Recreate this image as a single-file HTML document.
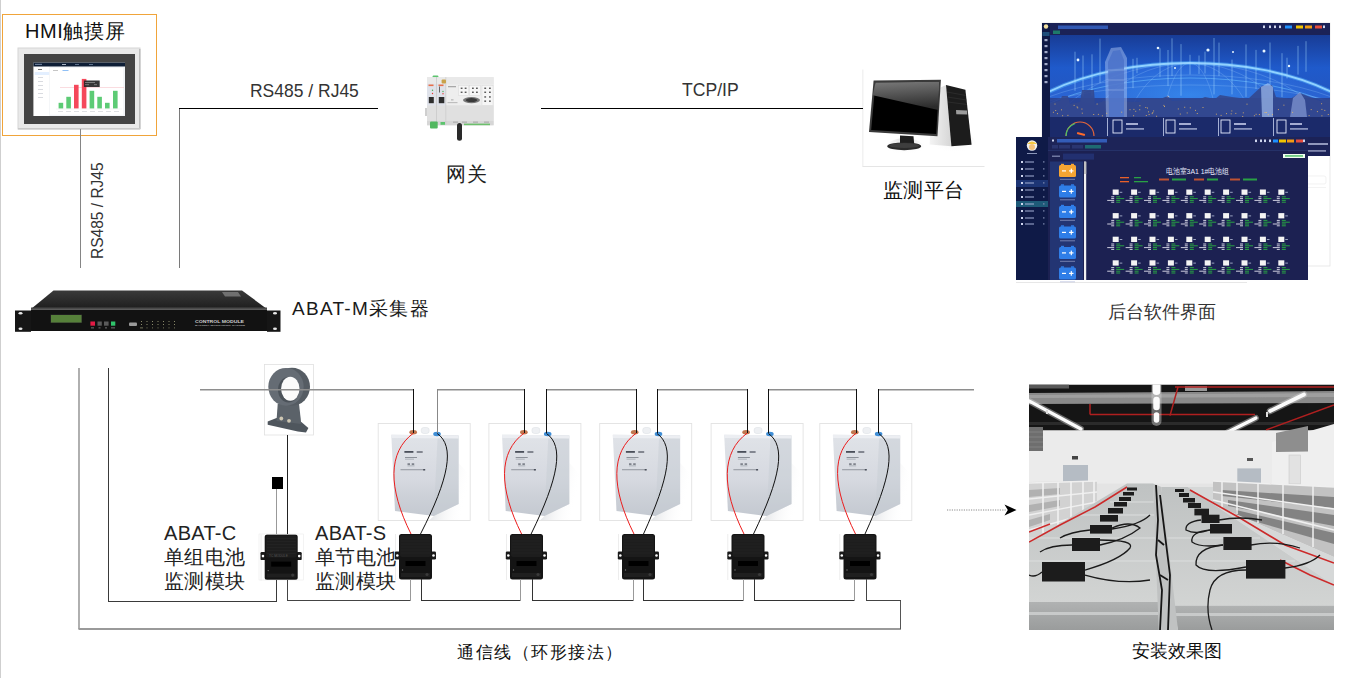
<!DOCTYPE html>
<html><head><meta charset="utf-8">
<style>
html,body{margin:0;padding:0;background:#fff;}
body{width:1351px;height:678px;position:relative;overflow:hidden;font-family:"Liberation Sans",sans-serif;color:#111;}
.t{position:absolute;white-space:nowrap;line-height:1;}
svg{position:absolute;left:0;top:0;}
</style></head><body>
<svg width="1351" height="678" viewBox="0 0 1351 678" shape-rendering="crispEdges">
<!-- left edge -->
<rect x="0" y="0" width="1" height="678" fill="#cfcfcf"/>
<!-- HMI orange box -->
<rect x="2.5" y="14.5" width="154" height="121" fill="none" stroke="#f0a43a" stroke-width="1"/>

<g id="hmi" shape-rendering="auto">
  <rect x="18" y="48" width="122" height="81" fill="#e9e9e9" stroke="#d6d6d6" stroke-width="1"/>
  <rect x="139" y="49" width="1.5" height="80" fill="#bdbdbd"/>
  <rect x="18" y="128" width="122" height="1.5" fill="#c9c9c9"/>
  <rect x="24" y="54" width="111" height="70" fill="#444"/>
  <rect x="33.4" y="62.6" width="91.6" height="53.4" fill="#fff"/>
  <rect x="49.2" y="66.4" width="75.8" height="49.6" fill="#f2f4f7"/>
  <rect x="50" y="68" width="73.2" height="46.7" fill="#fff"/>
  <rect x="33.4" y="62.6" width="91.6" height="3.9" fill="#0e1e36"/>
  <rect x="35" y="63.8" width="7" height="1.2" fill="#8fa3c0" opacity="0.7"/>
  <rect x="62" y="64" width="4" height="1" fill="#cfd8e6" opacity="0.8"/><rect x="75" y="64" width="4" height="1" fill="#8fa3c0" opacity="0.6"/><rect x="89" y="64" width="4" height="1" fill="#8fa3c0" opacity="0.6"/>
  <rect x="34.7" y="72" width="14.5" height="3" fill="#e3efff"/>
  <rect x="53" y="70" width="5" height="0.8" fill="#888" opacity="0.6"/><rect x="62.5" y="70" width="6" height="0.8" fill="#3b8ef0" opacity="0.7"/>
  <rect x="60" y="87.3" width="64" height="0.5" fill="#f5b9c0"/>
  <g fill="#5dcb75">
   <rect x="58.6" y="102.8" width="4.6" height="5.7"/>
   <rect x="66.3" y="96.8" width="4.6" height="11.7"/>
   <rect x="89.6" y="90.8" width="4.6" height="17.7"/>
   <rect x="97.3" y="96.8" width="4.6" height="11.7"/>
   <rect x="105" y="102.8" width="4.6" height="5.7"/>
   <rect x="113" y="90.8" width="4.6" height="17.7"/>
  </g>
  <g fill="#f5485b">
   <rect x="74" y="84.8" width="4.6" height="23.7"/>
   <rect x="81.8" y="78.9" width="4.6" height="29.6"/>
  </g>
  <rect x="83.9" y="80.5" width="15.8" height="6.5" fill="#262626" opacity="0.92"/><rect x="85" y="82" width="10" height="0.6" fill="#aaa"/><rect x="85" y="84.5" width="4" height="0.6" fill="#aaa"/><rect x="94" y="84.5" width="3" height="0.6" fill="#aaa"/>
    <g fill="#c9ccd3"><rect x="38" y="69" width="4" height="1" fill="#777"/><rect x="38" y="77" width="5" height="0.7"/><rect x="38" y="81" width="5" height="0.7"/><rect x="38" y="85" width="5" height="0.7"/><rect x="38" y="89" width="5" height="0.7"/><rect x="38" y="93" width="5" height="0.7"/><rect x="38" y="97" width="5" height="0.7"/></g>
  <g fill="#c9ccd3"><rect x="58" y="111" width="5" height="0.6"/><rect x="66" y="111" width="5" height="0.6"/><rect x="74" y="111" width="5" height="0.6"/><rect x="82" y="111" width="5" height="0.6"/><rect x="90" y="111" width="5" height="0.6"/><rect x="98" y="111" width="5" height="0.6"/><rect x="106" y="111" width="5" height="0.6"/><rect x="114" y="111" width="5" height="0.6"/></g>
  <rect x="56" y="108.8" width="66" height="0.4" fill="#e4e4e4"/>
</g>

<g id="rack" shape-rendering="auto">
  <defs>
   <linearGradient id="rtop" x1="0" y1="0" x2="0" y2="1"><stop offset="0" stop-color="#3a3a3a"/><stop offset="1" stop-color="#1e1e1e"/></linearGradient>
  </defs>
  <polygon points="53.5,290.5 242,290.5 267,309 31,309" fill="url(#rtop)"/>
  <polygon points="222,292 238,292 241,296.5 225,296.5" fill="#8a8a8a" opacity="0.7"/>
  <rect x="31" y="307.5" width="236" height="2" fill="#4a4a4a"/>
  <rect x="31" y="309.5" width="236" height="21.5" fill="#121212"/>
  <path d="M15 310.5H31V331.8H15Z" fill="#161616"/>
  <path d="M267 310.5H280.5V331.8H267Z" fill="#161616"/>
  <g fill="#e8e8e8"><ellipse cx="20.5" cy="313.2" rx="2" ry="1.3"/><ellipse cx="20.5" cy="328.8" rx="2" ry="1.3"/><ellipse cx="275" cy="313.2" rx="2" ry="1.3"/><ellipse cx="275" cy="328.8" rx="2" ry="1.3"/></g>
  <rect x="50.5" y="314.5" width="31.5" height="8.5" fill="#2a2a2a"/><rect x="51" y="315" width="30.5" height="7.5" fill="#56803a"/>
  <rect x="90.4" y="321.5" width="4.6" height="4.2" fill="#e31b45"/>
  <rect x="97.5" y="321.5" width="4.3" height="4.2" fill="#5a5a5a"/>
  <rect x="104" y="321.5" width="4.6" height="4.2" fill="#5a5a5a"/>
  <rect x="111" y="321.5" width="4.3" height="4.2" fill="#2fc46b"/>
  <g fill="#888"><rect x="91" y="327.5" width="3" height="0.8"/><rect x="98.5" y="327.5" width="2" height="0.8"/><rect x="105" y="327.5" width="2" height="0.8"/><rect x="111" y="327.5" width="4" height="0.8"/></g>
  <rect x="129" y="322.5" width="8" height="3.5" rx="1" fill="#9a9a9a"/>
  <g fill="#8a8a6a">
   <rect x="141" y="321" width="1" height="1"/><rect x="146.5" y="321" width="1" height="1"/><rect x="152" y="321" width="1" height="1"/><rect x="157.5" y="321" width="1" height="1"/><rect x="163" y="321" width="1" height="1"/><rect x="168.5" y="321" width="1" height="1"/><rect x="174" y="321" width="1" height="1"/>
   <rect x="141" y="324" width="1" height="1"/><rect x="146.5" y="324" width="1" height="1"/><rect x="152" y="324" width="1" height="1"/><rect x="157.5" y="324" width="1" height="1"/><rect x="163" y="324" width="1" height="1"/><rect x="168.5" y="324" width="1" height="1"/><rect x="174" y="324" width="1" height="1"/>
   <rect x="140" y="327.5" width="3" height="0.8"/><rect x="146.5" y="327.5" width="1" height="0.8"/><rect x="152" y="327.5" width="1" height="0.8"/><rect x="157.5" y="327.5" width="1" height="0.8"/><rect x="163" y="327.5" width="1" height="0.8"/><rect x="168.5" y="327.5" width="1" height="0.8"/><rect x="174" y="327.5" width="1" height="0.8"/>
  </g>
  <text x="195" y="322.6" font-family="Liberation Sans" font-weight="bold" font-size="4" fill="#d0d0d0" textLength="49" lengthAdjust="spacingAndGlyphs">CONTROL MODULE</text>
  <text x="195" y="326" font-family="Liberation Sans" font-weight="bold" font-size="2.2" fill="#a8a8a8" textLength="50" lengthAdjust="spacingAndGlyphs">BATTERY MONITORING SYSTEM</text>
</g>

<g id="gateway" shape-rendering="auto">
  <rect x="432.7" y="75.5" width="5.6" height="3" rx="0.8" fill="#5cc46e"/>
  <rect x="427" y="77.2" width="66.6" height="48" fill="#e2e2e2"/>
  <rect x="427" y="77.2" width="66.6" height="7" fill="#e9e9e9"/>
  <rect x="446" y="84.2" width="47.6" height="21.5" fill="#eeeeee"/>
  <rect x="427" y="105.4" width="66.6" height="15.5" fill="#e0e0e0"/>
  <rect x="427" y="120.9" width="66.6" height="4.4" fill="#d6d6d6"/>
  <rect x="427" y="83.8" width="8.5" height="21.6" fill="#dfe2ea"/>
  <rect x="436.6" y="83.8" width="8.8" height="21.6" fill="#dfe2ea"/>
  <rect x="436" y="77" width="0.6" height="48" fill="#c2c2c2"/>
  <rect x="445.6" y="77" width="0.6" height="48" fill="#c6c6c6"/>
  <rect x="428.5" y="84.5" width="5" height="1.6" fill="#e8704a"/>
  <rect x="438.5" y="84.5" width="5" height="1.6" fill="#e8704a"/>
  <rect x="428.8" y="97" width="5" height="6.2" fill="#2e2e2e"/>
  <rect x="438.8" y="97" width="5.5" height="6.2" fill="#2e2e2e"/>
  <circle cx="432.5" cy="90.3" r="0.7" fill="#4caf50"/><circle cx="432.5" cy="93.5" r="0.7" fill="#e53935"/>
  <circle cx="443" cy="91.5" r="0.7" fill="#4caf50"/><circle cx="443" cy="93.8" r="0.7" fill="#e53935"/>
  <rect x="439" y="86.5" width="0.9" height="6" fill="#555"/>
  <rect x="441.6" y="79.4" width="4.4" height="4" rx="1" fill="#c9a24a"/>
  <g fill="#f6f6f6" stroke="#d4d4d4" stroke-width="0.4">
    <rect x="458.7" y="85.5" width="10" height="9.9"/>
    <rect x="469.8" y="85.5" width="10.5" height="9.9"/>
    <rect x="482" y="85.5" width="11" height="19.9"/>
  </g>
  <g fill="#4a4a4a">
    <rect x="460.7" y="87.6" width="1.8" height="1.3"/><rect x="464.7" y="87.6" width="1.8" height="1.3"/><rect x="460.7" y="91.6" width="1.8" height="1.3"/><rect x="464.7" y="91.6" width="1.8" height="1.3"/>
    <rect x="472" y="87.6" width="1.8" height="1.3"/><rect x="476" y="87.6" width="1.8" height="1.3"/><rect x="472" y="91.6" width="1.8" height="1.3"/><rect x="476" y="91.6" width="1.8" height="1.3"/>
    <rect x="484.3" y="87.6" width="1.8" height="1.3"/><rect x="489" y="87.6" width="1.8" height="1.3"/><rect x="484.3" y="91.6" width="1.8" height="1.3"/><rect x="489" y="91.6" width="1.8" height="1.3"/>
    <rect x="484.3" y="96.3" width="1.8" height="1.3"/><rect x="489" y="96.3" width="1.8" height="1.3"/><rect x="484.3" y="100.5" width="1.8" height="1.3"/><rect x="489" y="100.5" width="1.8" height="1.3"/>
  </g>
  <ellipse cx="471.5" cy="100.1" rx="8.5" ry="3.1" fill="#777"/>
  <ellipse cx="471.5" cy="100.1" rx="5.8" ry="2" fill="#3a3a3a"/>
  <rect x="448" y="86.3" width="8" height="0.9" fill="#8a8a8a"/>
  <rect x="451" y="99.5" width="2.5" height="0.8" fill="#999"/><rect x="447.5" y="102.3" width="10" height="0.8" fill="#aaa"/>
  <rect x="464" y="123.6" width="26" height="1.6" fill="#6cbf6c"/>
  <rect x="453" y="121.5" width="5" height="1.3" fill="#b0b0b0"/><rect x="462" y="121.5" width="5" height="1.3" fill="#b0b0b0"/><rect x="473" y="121.5" width="5" height="1.3" fill="#b0b0b0"/><rect x="484" y="121.5" width="5" height="1.3" fill="#b0b0b0"/>
  <rect x="430" y="121.4" width="7.7" height="7.2" rx="1" fill="#52b860"/>
  <rect x="440.5" y="122" width="4.5" height="2.8" fill="#5cc46e"/>
  <rect x="425" y="108" width="2" height="8" fill="#cfcfcf"/>
  <rect x="457" y="123" width="5" height="17.8" rx="2.5" fill="#2a2a2a"/>
</g>

<g id="pc" shape-rendering="auto">
  <defs>
   <linearGradient id="gloss" x1="0" y1="0" x2="0.15" y2="1"><stop offset="0" stop-color="#7a7a7a"/><stop offset="1" stop-color="#2c2c2c"/></linearGradient>
   <linearGradient id="side" x1="0" y1="0" x2="1" y2="0"><stop offset="0" stop-color="#f4f4f4"/><stop offset="1" stop-color="#d6d6d6"/></linearGradient>
   <radialGradient id="refl" cx="0.5" cy="0" r="0.7"><stop offset="0" stop-color="#d8d8d8"/><stop offset="1" stop-color="#ffffff" stop-opacity="0"/></radialGradient>
  </defs>
  <rect x="862.5" y="69.5" width="0.8" height="97" fill="#e6e6e6"/>
  <rect x="862.5" y="166" width="122" height="0.9" fill="#e2e2e2"/>
  <ellipse cx="905" cy="150" rx="20" ry="12" fill="url(#refl)"/>
  <ellipse cx="955" cy="147" rx="22" ry="16" fill="url(#refl)"/>
  <polygon points="940.6,87.5 946,85.1 951.4,146.3 929.7,144.5 931,100" fill="url(#side)"/>
  <polygon points="946,85.1 965.4,89.8 971.6,144.8 951.4,146.3" fill="#1c1c1c"/>
  <g stroke="#3a3a3a" stroke-width="0.5"><line x1="947" y1="92" x2="966" y2="95.5"/><line x1="947.5" y1="97" x2="966.5" y2="100"/><line x1="948" y1="102" x2="967" y2="104.5"/></g>
  <polygon points="956,110 967,110.5 967.3,114.6 956.3,114.3" fill="#9c9c9c"/>
  <polygon points="873.6,80.5 940.9,79.7 937.5,136.3 869,132" fill="#3a3a3a"/>
  <polygon points="875.5,82.4 939.3,81.7 936.2,134 871.2,130" fill="#000"/>
  <polygon points="875.5,82.4 939.3,81.7 938.2,110 872.8,95.2" fill="url(#gloss)"/>
  <polygon points="900,135.5 913.5,136.3 914.2,144 900,144" fill="#1e1e1e"/>
  <ellipse cx="904.2" cy="146.3" rx="17" ry="3.9" fill="#2a2a2a"/>
  <ellipse cx="904.2" cy="145.5" rx="15" ry="2.6" fill="#3e3e3e"/>
</g>
<g id="soft" shape-rendering="auto">
<defs>
<linearGradient id="hero" x1="0" y1="0" x2="0" y2="1"><stop offset="0" stop-color="#183c96"/><stop offset="0.4" stop-color="#1f5acb"/><stop offset="0.75" stop-color="#2456c0"/><stop offset="1" stop-color="#22348a"/></linearGradient>
<radialGradient id="glow" cx="0.5" cy="0.5" r="0.5"><stop offset="0" stop-color="#3fa0ff" stop-opacity="0.55"/><stop offset="1" stop-color="#3fa0ff" stop-opacity="0"/></radialGradient>
<clipPath id="heroclip"><rect x="1050" y="35" width="280" height="82"/></clipPath>
</defs>
<rect x="1042" y="23" width="288" height="243" fill="#fff" stroke="#e3e3e3" stroke-width="0.8"/>
<rect x="1042" y="23" width="288" height="133" fill="#1b2257"/>
<rect x="1042" y="23" width="8" height="133" fill="#101a45"/>
<rect x="1042.5" y="32" width="7" height="4" fill="#1f4f7a"/>
<circle cx="1046" cy="26.5" r="2.2" fill="#f2e0a0"/>
<rect x="1058" y="25.5" width="50" height="3.5" fill="#3b6fd8" opacity="0.7"/>
<rect x="1053" y="30.5" width="7" height="3.5" fill="#1e7a6a"/>
<rect x="1285" y="25.5" width="7" height="3" fill="#1e90ff"/>
<rect x="1296" y="25.5" width="7" height="3" fill="#f2c500"/>
<rect x="1305" y="25.5" width="7" height="3" fill="#f39c12"/>
<rect x="1315" y="25.5" width="7" height="3" fill="#e74c3c"/>
<g fill="#cfd6ee"><rect x="1263" y="25.5" width="2" height="2.6"/><rect x="1269" y="25.5" width="2" height="2.6"/><rect x="1274" y="25.5" width="2" height="2.6"/><rect x="1279" y="25.5" width="2" height="2.6"/><rect x="1323" y="25.5" width="2" height="2.6"/></g>
<rect x="1044.5" y="39" width="3" height="2.2" fill="#c8d0ea" opacity="0.8"/>
<rect x="1044.5" y="45" width="3" height="2.2" fill="#c8d0ea" opacity="0.8"/>
<rect x="1044.5" y="51" width="3" height="2.2" fill="#c8d0ea" opacity="0.8"/>
<rect x="1044.5" y="57" width="3" height="2.2" fill="#c8d0ea" opacity="0.8"/>
<rect x="1044.5" y="63" width="3" height="2.2" fill="#c8d0ea" opacity="0.8"/>
<rect x="1044.5" y="69" width="3" height="2.2" fill="#c8d0ea" opacity="0.8"/>
<rect x="1044.5" y="75" width="3" height="2.2" fill="#c8d0ea" opacity="0.8"/>
<rect x="1044.5" y="81" width="3" height="2.2" fill="#c8d0ea" opacity="0.8"/>
<g clip-path="url(#heroclip)">
<rect x="1050" y="35" width="280" height="82" fill="url(#hero)"/>
<ellipse cx="1190" cy="162" rx="200" ry="99" fill="#2f6fe0" opacity="0.55"/>
<ellipse cx="1190" cy="95" rx="120" ry="30" fill="url(#glow)"/>
<ellipse cx="1190" cy="162" rx="200" ry="99" fill="none" stroke="#bfe8ff" stroke-width="1.8"/>
<ellipse cx="1190" cy="162" rx="200" ry="99" fill="none" stroke="#58b8ff" stroke-width="4" opacity="0.45"/>
<ellipse cx="1190" cy="172" rx="206" ry="94" fill="none" stroke="#6cc0ff" stroke-width="0.8" opacity="0.7"/>
<g stroke="#9fcfff" stroke-width="0.5" opacity="0.5" fill="none">
<ellipse cx="1190" cy="162" rx="30" ry="99"/>
<ellipse cx="1190" cy="162" rx="70" ry="99"/>
<ellipse cx="1190" cy="162" rx="110" ry="99"/>
<ellipse cx="1190" cy="162" rx="150" ry="99"/>
<ellipse cx="1190" cy="150" rx="200" ry="75"/><ellipse cx="1190" cy="140" rx="200" ry="55"/></g>
<g stroke="#a8dcff" stroke-width="0.6" opacity="0.8">
<line x1="1075" y1="51.7" x2="1075" y2="90.8"/>
<line x1="1083" y1="55.5" x2="1083" y2="96.4"/>
<line x1="1092" y1="54.3" x2="1092" y2="95.8"/>
<line x1="1100" y1="38.6" x2="1100" y2="83.0"/>
<line x1="1133" y1="58.8" x2="1133" y2="88.2"/>
<line x1="1137" y1="57.8" x2="1137" y2="73.2"/>
<line x1="1160" y1="48.3" x2="1160" y2="76.9"/>
<line x1="1168" y1="50.0" x2="1168" y2="86.1"/>
<line x1="1172" y1="38.3" x2="1172" y2="76.1"/>
<line x1="1181" y1="44.1" x2="1181" y2="95.7"/>
<line x1="1190" y1="54.8" x2="1190" y2="74.5"/>
<line x1="1199" y1="55.5" x2="1199" y2="73.9"/>
<line x1="1205" y1="51.6" x2="1205" y2="73.5"/>
<line x1="1214" y1="38.0" x2="1214" y2="94.4"/>
<line x1="1219" y1="42.6" x2="1219" y2="76.0"/>
<line x1="1232" y1="59.6" x2="1232" y2="94.4"/>
<line x1="1246" y1="44.4" x2="1246" y2="96.9"/>
<line x1="1256" y1="49.9" x2="1256" y2="89.0"/>
<line x1="1270" y1="42.5" x2="1270" y2="96.3"/>
<line x1="1282" y1="53.2" x2="1282" y2="97.1"/>
<line x1="1287" y1="57.7" x2="1287" y2="78.4"/>
<line x1="1298" y1="45.9" x2="1298" y2="74.6"/>
<line x1="1306" y1="41.2" x2="1306" y2="71.8"/>
</g>
<g fill="#e8f6ff">
<circle cx="1078" cy="60" r="1.4"/>
<circle cx="1158" cy="48" r="1.3"/>
<circle cx="1175" cy="68" r="1"/>
<circle cx="1208" cy="50" r="1.6"/>
<circle cx="1264" cy="51" r="1.5"/>
<circle cx="1289" cy="66" r="1.2"/>
<circle cx="1168" cy="97" r="1.3"/>
<circle cx="1233" cy="52" r="1"/>
</g>
<rect x="1050" y="98" width="280" height="19" fill="#2a3f8e" opacity="0.85"/>
<polygon points="1050,117 1050,103 1060,101 1062,96 1068,96 1070,104 1080,102 1082,90 1094,90 1095,104 1104,101 1140,102 1142,98 1160,99 1168,96 1172,101 1200,99 1205,97 1215,99 1220,95 1232,97 1248,99 1262,86 1272,85 1276,97 1290,99 1300,93 1310,97 1320,101 1330,99 1330,117" fill="#33488f" opacity="0.9"/>
<polygon points="1106,117 1105,62 1111,48 1121,47 1127,58 1127,117" fill="#a8c0f0" opacity="0.5"/>
<polygon points="1109,117 1108,62 1113,51 1120,50 1124,60 1124,117" fill="#4a70c8" opacity="0.8"/>
<g stroke="#d0e4ff" stroke-width="0.5" opacity="0.6"><line x1="1108" y1="70" x2="1124" y2="70"/><line x1="1108" y1="80" x2="1124" y2="80"/><line x1="1108" y1="90" x2="1124" y2="90"/></g>
<polygon points="1262,117 1261,87 1268,83 1273,87 1273,117" fill="#a8c4f4" opacity="0.65"/>
<polygon points="1290,117 1293,98 1300,92 1305,100 1307,117" fill="#9ab0e8" opacity="0.55"/>
<g fill="#f5c060" opacity="0.85">
<rect x="1135.2" y="110.8" width="1" height="0.9"/>
<rect x="1052.9" y="111.8" width="1" height="0.9"/>
<rect x="1145.3" y="107.0" width="1" height="0.9"/>
<rect x="1277.9" y="109.2" width="1" height="0.9"/>
<rect x="1139.2" y="109.3" width="1" height="0.9"/>
<rect x="1246.5" y="103.7" width="1" height="0.9"/>
<rect x="1321.1" y="103.3" width="1" height="0.9"/>
<rect x="1258.9" y="114.0" width="1" height="0.9"/>
<rect x="1057.0" y="113.2" width="1" height="0.9"/>
<rect x="1153.1" y="110.5" width="1" height="0.9"/>
<rect x="1054.5" y="103.6" width="1" height="0.9"/>
<rect x="1101.9" y="115.4" width="1" height="0.9"/>
<rect x="1106.2" y="112.8" width="1" height="0.9"/>
<rect x="1308.6" y="115.2" width="1" height="0.9"/>
<rect x="1147.0" y="107.6" width="1" height="0.9"/>
<rect x="1196.8" y="113.1" width="1" height="0.9"/>
<rect x="1081.8" y="112.7" width="1" height="0.9"/>
<rect x="1272.0" y="114.2" width="1" height="0.9"/>
<rect x="1062.1" y="115.3" width="1" height="0.9"/>
<rect x="1077.2" y="107.4" width="1" height="0.9"/>
<rect x="1220.6" y="114.9" width="1" height="0.9"/>
<rect x="1145.8" y="115.0" width="1" height="0.9"/>
<rect x="1202.5" y="107.1" width="1" height="0.9"/>
<rect x="1139.4" y="105.3" width="1" height="0.9"/>
<rect x="1073.6" y="104.9" width="1" height="0.9"/>
<rect x="1242.2" y="116.0" width="1" height="0.9"/>
<rect x="1096.6" y="103.6" width="1" height="0.9"/>
<rect x="1324.3" y="109.9" width="1" height="0.9"/>
<rect x="1164.0" y="106.1" width="1" height="0.9"/>
<rect x="1215.9" y="113.7" width="1" height="0.9"/>
<rect x="1177.8" y="108.5" width="1" height="0.9"/>
<rect x="1067.4" y="114.9" width="1" height="0.9"/>
<rect x="1061.0" y="109.4" width="1" height="0.9"/>
<rect x="1283.4" y="104.7" width="1" height="0.9"/>
<rect x="1253.9" y="115.3" width="1" height="0.9"/>
<rect x="1226.0" y="113.2" width="1" height="0.9"/>
<rect x="1081.4" y="108.6" width="1" height="0.9"/>
<rect x="1093.2" y="114.0" width="1" height="0.9"/>
<rect x="1133.4" y="108.9" width="1" height="0.9"/>
<rect x="1327.8" y="114.1" width="1" height="0.9"/>
<rect x="1321.4" y="108.9" width="1" height="0.9"/>
<rect x="1186.7" y="112.5" width="1" height="0.9"/>
<rect x="1184.2" y="106.8" width="1" height="0.9"/>
<rect x="1163.4" y="104.9" width="1" height="0.9"/>
<rect x="1156.1" y="115.8" width="1" height="0.9"/>
<rect x="1316.9" y="111.2" width="1" height="0.9"/>
<rect x="1189.8" y="107.4" width="1" height="0.9"/>
<rect x="1076.6" y="106.5" width="1" height="0.9"/>
<rect x="1267.8" y="114.3" width="1" height="0.9"/>
<rect x="1151.7" y="113.2" width="1" height="0.9"/>
<rect x="1265.9" y="112.0" width="1" height="0.9"/>
<rect x="1235.3" y="112.9" width="1" height="0.9"/>
<rect x="1152.3" y="112.2" width="1" height="0.9"/>
<rect x="1129.5" y="109.3" width="1" height="0.9"/>
<rect x="1264.5" y="112.0" width="1" height="0.9"/>
<rect x="1133.1" y="115.3" width="1" height="0.9"/>
<rect x="1231.3" y="110.5" width="1" height="0.9"/>
<rect x="1055.2" y="110.1" width="1" height="0.9"/>
<rect x="1121.2" y="111.7" width="1" height="0.9"/>
<rect x="1179.8" y="113.6" width="1" height="0.9"/>
<rect x="1230.7" y="113.4" width="1" height="0.9"/>
<rect x="1148.0" y="111.4" width="1" height="0.9"/>
<rect x="1255.6" y="113.8" width="1" height="0.9"/>
<rect x="1148.6" y="114.0" width="1" height="0.9"/>
<rect x="1292.1" y="111.9" width="1" height="0.9"/>
<rect x="1321.4" y="115.4" width="1" height="0.9"/>
<rect x="1195.0" y="109.9" width="1" height="0.9"/>
<rect x="1097.9" y="113.9" width="1" height="0.9"/>
<rect x="1310.7" y="109.2" width="1" height="0.9"/>
<rect x="1242.8" y="112.4" width="1" height="0.9"/>
</g>
</g>
<rect x="1050" y="117" width="280" height="20" fill="#1b2a6a"/>
<g fill="#c8d2f0"><rect x="1107" y="118" width="0.8" height="18"/><rect x="1163" y="118" width="0.8" height="18"/><rect x="1218" y="118" width="0.8" height="18"/><rect x="1273" y="118" width="0.8" height="18"/></g>
<path d="M1066 136 A14 14 0 0 1 1094 136" fill="none" stroke="#e8673a" stroke-width="1.2"/>
<path d="M1066 136 A14 14 0 0 1 1075 123.5" fill="none" stroke="#46c46a" stroke-width="1.2"/>
<rect x="1077" y="133" width="8" height="2" fill="#ff6a2a" transform="rotate(15 1081 134)"/>
<rect x="1113" y="120" width="9" height="13" fill="none" stroke="#e8eeff" stroke-width="0.9"/>
<rect x="1126" y="123" width="12" height="2" fill="#dfe6ff" opacity="0.7"/>
<rect x="1126" y="128" width="18" height="1.8" fill="#dfe6ff" opacity="0.55"/>
<rect x="1166" y="120" width="9" height="13" fill="none" stroke="#e8eeff" stroke-width="0.9"/>
<rect x="1179" y="123" width="12" height="2" fill="#dfe6ff" opacity="0.7"/>
<rect x="1179" y="128" width="18" height="1.8" fill="#dfe6ff" opacity="0.55"/>
<rect x="1221" y="120" width="9" height="13" fill="none" stroke="#e8eeff" stroke-width="0.9"/>
<rect x="1234" y="123" width="12" height="2" fill="#dfe6ff" opacity="0.7"/>
<rect x="1234" y="128" width="18" height="1.8" fill="#dfe6ff" opacity="0.55"/>
<rect x="1277" y="120" width="9" height="13" fill="none" stroke="#e8eeff" stroke-width="0.9"/>
<rect x="1290" y="123" width="12" height="2" fill="#dfe6ff" opacity="0.7"/>
<rect x="1290" y="128" width="18" height="1.8" fill="#dfe6ff" opacity="0.55"/>
<rect x="1308" y="143" width="20" height="2" fill="#dfe6ff" opacity="0.6"/>
<rect x="1308" y="150" width="18" height="1.8" fill="#dfe6ff" opacity="0.5"/>
<rect x="1296" y="176" width="30" height="8" rx="2" fill="none" stroke="#ececec" stroke-width="0.7"/>
<rect x="1290" y="187" width="36" height="0.6" fill="#ececec"/>
<rect x="1016" y="137" width="292" height="143" fill="#1c2152"/>
<rect x="1016" y="282" width="231" height="0.8" fill="#e2e2e2"/>
<rect x="1016" y="137" width="32" height="143" fill="#0f1a47"/>
<circle cx="1032" cy="145.5" r="5.2" fill="#f0f0f0"/><circle cx="1032" cy="147" r="3" fill="#f4c27a"/><path d="M1027 144 Q1032 139 1037 144Z" fill="#f5c842"/>
<rect x="1027" y="153" width="10" height="1" fill="#8a95b8"/>
<rect x="1021" y="161" width="2" height="2" fill="#cfd6ee"/><rect x="1025" y="161.3" width="9" height="1.4" fill="#aab4d8" opacity="0.7"/><rect x="1043" y="161.3" width="1.5" height="1.2" fill="#7f8ab0"/>
<rect x="1021" y="168" width="2" height="2" fill="#cfd6ee"/><rect x="1025" y="168.3" width="9" height="1.4" fill="#aab4d8" opacity="0.7"/><rect x="1043" y="168.3" width="1.5" height="1.2" fill="#7f8ab0"/>
<rect x="1021" y="175" width="2" height="2" fill="#cfd6ee"/><rect x="1025" y="175.3" width="9" height="1.4" fill="#aab4d8" opacity="0.7"/><rect x="1043" y="175.3" width="1.5" height="1.2" fill="#7f8ab0"/>
<rect x="1016" y="180" width="32" height="7" fill="#1d3575"/>
<rect x="1021" y="182" width="2" height="2" fill="#cfd6ee"/><rect x="1025" y="182.3" width="9" height="1.4" fill="#aab4d8" opacity="0.7"/><rect x="1043" y="182.3" width="1.5" height="1.2" fill="#7f8ab0"/>
<rect x="1021" y="189" width="2" height="2" fill="#cfd6ee"/><rect x="1025" y="189.3" width="9" height="1.4" fill="#aab4d8" opacity="0.7"/><rect x="1043" y="189.3" width="1.5" height="1.2" fill="#7f8ab0"/>
<rect x="1021" y="196" width="2" height="2" fill="#cfd6ee"/><rect x="1025" y="196.3" width="9" height="1.4" fill="#aab4d8" opacity="0.7"/><rect x="1043" y="196.3" width="1.5" height="1.2" fill="#7f8ab0"/>
<rect x="1016" y="201" width="32" height="6" fill="#1e5a78"/>
<rect x="1021" y="203" width="2" height="2" fill="#cfd6ee"/><rect x="1025" y="203.3" width="9" height="1.4" fill="#aab4d8" opacity="0.7"/><rect x="1043" y="203.3" width="1.5" height="1.2" fill="#7f8ab0"/>
<rect x="1021" y="210" width="2" height="2" fill="#cfd6ee"/><rect x="1025" y="210.3" width="9" height="1.4" fill="#aab4d8" opacity="0.7"/><rect x="1043" y="210.3" width="1.5" height="1.2" fill="#7f8ab0"/>
<rect x="1021" y="217" width="2" height="2" fill="#cfd6ee"/><rect x="1025" y="217.3" width="9" height="1.4" fill="#aab4d8" opacity="0.7"/><rect x="1043" y="217.3" width="1.5" height="1.2" fill="#7f8ab0"/>
<rect x="1021" y="223" width="2" height="2" fill="#cfd6ee"/><rect x="1025" y="223.3" width="9" height="1.4" fill="#aab4d8" opacity="0.7"/><rect x="1043" y="223.3" width="1.5" height="1.2" fill="#7f8ab0"/>
<rect x="1048" y="137" width="260" height="13" fill="#1d2458"/>
<rect x="1052" y="139.5" width="2" height="2" fill="#cfd6ee"/><rect x="1057" y="139" width="50" height="3.5" fill="#3b6fd8" opacity="0.75"/>
<rect x="1052" y="145" width="6" height="3.5" fill="#2a3570"/><rect x="1059" y="145" width="11" height="3.5" fill="#2a3570"/><rect x="1072" y="145" width="11" height="3.5" fill="#2a3570"/><rect x="1085" y="145" width="16" height="3.5" fill="#1e6a72"/>
<rect x="1048" y="150.3" width="260" height="0.6" fill="#2d3d78"/>
<rect x="1279" y="139.5" width="7" height="3" fill="#f2c500"/>
<rect x="1287" y="139.5" width="7" height="3" fill="#f39c12"/>
<rect x="1296" y="139.5" width="7" height="3" fill="#e74c3c"/>
<rect x="1273" y="139.5" width="5" height="3" fill="#1e90ff"/>
<g fill="#cfd6ee"><rect x="1255" y="139.5" width="2" height="2.6"/><rect x="1260" y="139.5" width="2" height="2.6"/><rect x="1264" y="139.5" width="2" height="2.6"/><rect x="1269" y="139.5" width="2" height="2.6"/><rect x="1303" y="139.5" width="2" height="2.6"/></g>
<rect x="1063" y="153.6" width="31" height="6" fill="#223070"/><rect x="1052" y="155.5" width="8" height="1.5" fill="#aab4d8" opacity="0.6"/>
<rect x="1283" y="154" width="22" height="4" fill="#f0fff0"/><rect x="1285" y="155.3" width="18" height="1.3" fill="#3cb85a"/>
<rect x="1050" y="161.5" width="33" height="118.5" fill="#233573"/>
<rect x="1084" y="161.5" width="2.2" height="118.5" fill="#f0f0f0"/><rect x="1084" y="162" width="2.2" height="12" fill="#c0c0c0"/>
<rect x="1059" y="165" width="17" height="12" rx="1.5" fill="#f5a533"/>
<rect x="1061" y="163.8" width="3" height="1.5" fill="#f5a533"/><rect x="1071" y="163.8" width="3" height="1.5" fill="#f5a533"/>
<rect x="1062" y="170.3" width="4" height="1.2" fill="#fff"/><rect x="1069" y="170.3" width="4.5" height="1.2" fill="#fff"/><rect x="1070.7" y="168.6" width="1.2" height="4.6" fill="#fff"/>
<rect x="1060" y="178.8" width="15" height="1" fill="#aab4d8" opacity="0.6"/>
<rect x="1059" y="185.5" width="17" height="12" rx="1.5" fill="#2f7ee8"/>
<rect x="1061" y="184.3" width="3" height="1.5" fill="#2f7ee8"/><rect x="1071" y="184.3" width="3" height="1.5" fill="#2f7ee8"/>
<rect x="1062" y="190.8" width="4" height="1.2" fill="#fff"/><rect x="1069" y="190.8" width="4.5" height="1.2" fill="#fff"/><rect x="1070.7" y="189.1" width="1.2" height="4.6" fill="#fff"/>
<rect x="1060" y="199.3" width="15" height="1" fill="#aab4d8" opacity="0.6"/>
<rect x="1059" y="206" width="17" height="12" rx="1.5" fill="#2f7ee8"/>
<rect x="1061" y="204.8" width="3" height="1.5" fill="#2f7ee8"/><rect x="1071" y="204.8" width="3" height="1.5" fill="#2f7ee8"/>
<rect x="1062" y="211.3" width="4" height="1.2" fill="#fff"/><rect x="1069" y="211.3" width="4.5" height="1.2" fill="#fff"/><rect x="1070.7" y="209.6" width="1.2" height="4.6" fill="#fff"/>
<rect x="1060" y="219.8" width="15" height="1" fill="#aab4d8" opacity="0.6"/>
<rect x="1059" y="226.5" width="17" height="12" rx="1.5" fill="#2f7ee8"/>
<rect x="1061" y="225.3" width="3" height="1.5" fill="#2f7ee8"/><rect x="1071" y="225.3" width="3" height="1.5" fill="#2f7ee8"/>
<rect x="1062" y="231.8" width="4" height="1.2" fill="#fff"/><rect x="1069" y="231.8" width="4.5" height="1.2" fill="#fff"/><rect x="1070.7" y="230.1" width="1.2" height="4.6" fill="#fff"/>
<rect x="1060" y="240.3" width="15" height="1" fill="#aab4d8" opacity="0.6"/>
<rect x="1059" y="247" width="17" height="12" rx="1.5" fill="#2f7ee8"/>
<rect x="1061" y="245.8" width="3" height="1.5" fill="#2f7ee8"/><rect x="1071" y="245.8" width="3" height="1.5" fill="#2f7ee8"/>
<rect x="1062" y="252.3" width="4" height="1.2" fill="#fff"/><rect x="1069" y="252.3" width="4.5" height="1.2" fill="#fff"/><rect x="1070.7" y="250.6" width="1.2" height="4.6" fill="#fff"/>
<rect x="1060" y="260.8" width="15" height="1" fill="#aab4d8" opacity="0.6"/>
<rect x="1059" y="267.5" width="17" height="12" rx="1.5" fill="#2f7ee8"/>
<rect x="1061" y="266.3" width="3" height="1.5" fill="#2f7ee8"/><rect x="1071" y="266.3" width="3" height="1.5" fill="#2f7ee8"/>
<rect x="1062" y="272.8" width="4" height="1.2" fill="#fff"/><rect x="1069" y="272.8" width="4.5" height="1.2" fill="#fff"/><rect x="1070.7" y="271.1" width="1.2" height="4.6" fill="#fff"/>
<rect x="1060" y="281.3" width="15" height="1" fill="#aab4d8" opacity="0.6"/>
<text x="1166" y="174" font-family="Liberation Sans" font-size="8" fill="#e8ecff" textLength="63" lengthAdjust="spacingAndGlyphs">电池室3A1  1#电池组</text>
<rect x="1120" y="177" width="9" height="1.3" fill="#e8602a"/><rect x="1134" y="177" width="7" height="1.3" fill="#2ecc40" opacity="0.75"/>
<rect x="1120" y="181" width="9" height="1.3" fill="#e8602a"/><rect x="1134" y="181" width="14" height="1.3" fill="#2ecc40" opacity="0.75"/>
<rect x="1159" y="178.5" width="10" height="2" fill="#e8602a" opacity="0.8"/><rect x="1172" y="178.5" width="14" height="2" fill="#2ecc40" opacity="0.75"/>
<rect x="1194" y="178.5" width="10" height="2" fill="#e8602a" opacity="0.8"/><rect x="1207" y="178.5" width="11" height="2" fill="#2ecc40" opacity="0.75"/>
<rect x="1230" y="178.5" width="10" height="2" fill="#e8602a" opacity="0.8"/><rect x="1243" y="178.5" width="14" height="2" fill="#2ecc40" opacity="0.75"/>
<rect x="1112.7" y="189.5" width="6" height="5.3" fill="#f4f4f4"/>
<rect x="1119.7" y="191.8" width="2.6" height="1" fill="#9aa2c0"/>
<rect x="1111.2" y="196.3" width="3" height="1" fill="#ccd"/><rect x="1116.2" y="196.3" width="4" height="1" fill="#2ecc40" opacity="0.75"/>
<rect x="1111.2" y="198.1" width="3" height="1" fill="#ccd"/><rect x="1116.2" y="198.1" width="8" height="1" fill="#2ecc40" opacity="0.75"/>
<rect x="1107.2" y="199.9" width="7" height="1" fill="#ccd"/><rect x="1116.2" y="199.9" width="4" height="1" fill="#2ecc40" opacity="0.75"/>
<rect x="1111.2" y="201.7" width="3" height="1" fill="#ccd"/><rect x="1116.2" y="201.7" width="4" height="1" fill="#2ecc40" opacity="0.75"/>
<rect x="1131.1" y="189.5" width="6" height="5.3" fill="#f4f4f4"/>
<rect x="1138.1" y="191.8" width="2.6" height="1" fill="#9aa2c0"/>
<rect x="1129.6" y="196.3" width="3" height="1" fill="#ccd"/><rect x="1134.6" y="196.3" width="4" height="1" fill="#2ecc40" opacity="0.75"/>
<rect x="1129.6" y="198.1" width="3" height="1" fill="#ccd"/><rect x="1134.6" y="198.1" width="8" height="1" fill="#2ecc40" opacity="0.75"/>
<rect x="1125.6" y="199.9" width="7" height="1" fill="#ccd"/><rect x="1134.6" y="199.9" width="4" height="1" fill="#2ecc40" opacity="0.75"/>
<rect x="1129.6" y="201.7" width="3" height="1" fill="#ccd"/><rect x="1134.6" y="201.7" width="4" height="1" fill="#2ecc40" opacity="0.75"/>
<rect x="1149.5" y="189.5" width="6" height="5.3" fill="#f4f4f4"/>
<rect x="1156.5" y="191.8" width="2.6" height="1" fill="#9aa2c0"/>
<rect x="1148.0" y="196.3" width="3" height="1" fill="#ccd"/><rect x="1153.0" y="196.3" width="4" height="1" fill="#2ecc40" opacity="0.75"/>
<rect x="1148.0" y="198.1" width="3" height="1" fill="#ccd"/><rect x="1153.0" y="198.1" width="8" height="1" fill="#2ecc40" opacity="0.75"/>
<rect x="1144.0" y="199.9" width="7" height="1" fill="#ccd"/><rect x="1153.0" y="199.9" width="4" height="1" fill="#2ecc40" opacity="0.75"/>
<rect x="1148.0" y="201.7" width="3" height="1" fill="#ccd"/><rect x="1153.0" y="201.7" width="4" height="1" fill="#2ecc40" opacity="0.75"/>
<rect x="1167.9" y="189.5" width="6" height="5.3" fill="#f4f4f4"/>
<rect x="1174.9" y="191.8" width="2.6" height="1" fill="#9aa2c0"/>
<rect x="1166.4" y="196.3" width="3" height="1" fill="#ccd"/><rect x="1171.4" y="196.3" width="4" height="1" fill="#2ecc40" opacity="0.75"/>
<rect x="1166.4" y="198.1" width="3" height="1" fill="#ccd"/><rect x="1171.4" y="198.1" width="8" height="1" fill="#2ecc40" opacity="0.75"/>
<rect x="1162.4" y="199.9" width="7" height="1" fill="#ccd"/><rect x="1171.4" y="199.9" width="4" height="1" fill="#2ecc40" opacity="0.75"/>
<rect x="1166.4" y="201.7" width="3" height="1" fill="#ccd"/><rect x="1171.4" y="201.7" width="4" height="1" fill="#2ecc40" opacity="0.75"/>
<rect x="1186.3" y="189.5" width="6" height="5.3" fill="#f4f4f4"/>
<rect x="1193.3" y="191.8" width="2.6" height="1" fill="#9aa2c0"/>
<rect x="1184.8" y="196.3" width="3" height="1" fill="#ccd"/><rect x="1189.8" y="196.3" width="4" height="1" fill="#2ecc40" opacity="0.75"/>
<rect x="1184.8" y="198.1" width="3" height="1" fill="#ccd"/><rect x="1189.8" y="198.1" width="8" height="1" fill="#2ecc40" opacity="0.75"/>
<rect x="1180.8" y="199.9" width="7" height="1" fill="#ccd"/><rect x="1189.8" y="199.9" width="4" height="1" fill="#2ecc40" opacity="0.75"/>
<rect x="1184.8" y="201.7" width="3" height="1" fill="#ccd"/><rect x="1189.8" y="201.7" width="4" height="1" fill="#2ecc40" opacity="0.75"/>
<rect x="1204.7" y="189.5" width="6" height="5.3" fill="#f4f4f4"/>
<rect x="1211.7" y="191.8" width="2.6" height="1" fill="#9aa2c0"/>
<rect x="1203.2" y="196.3" width="3" height="1" fill="#ccd"/><rect x="1208.2" y="196.3" width="4" height="1" fill="#2ecc40" opacity="0.75"/>
<rect x="1203.2" y="198.1" width="3" height="1" fill="#ccd"/><rect x="1208.2" y="198.1" width="8" height="1" fill="#2ecc40" opacity="0.75"/>
<rect x="1199.2" y="199.9" width="7" height="1" fill="#ccd"/><rect x="1208.2" y="199.9" width="4" height="1" fill="#2ecc40" opacity="0.75"/>
<rect x="1203.2" y="201.7" width="3" height="1" fill="#ccd"/><rect x="1208.2" y="201.7" width="4" height="1" fill="#2ecc40" opacity="0.75"/>
<rect x="1223.1" y="189.5" width="6" height="5.3" fill="#f4f4f4"/>
<rect x="1230.1" y="191.8" width="2.6" height="1" fill="#9aa2c0"/>
<rect x="1221.6" y="196.3" width="3" height="1" fill="#ccd"/><rect x="1226.6" y="196.3" width="4" height="1" fill="#2ecc40" opacity="0.75"/>
<rect x="1221.6" y="198.1" width="3" height="1" fill="#ccd"/><rect x="1226.6" y="198.1" width="8" height="1" fill="#2ecc40" opacity="0.75"/>
<rect x="1217.6" y="199.9" width="7" height="1" fill="#ccd"/><rect x="1226.6" y="199.9" width="4" height="1" fill="#2ecc40" opacity="0.75"/>
<rect x="1221.6" y="201.7" width="3" height="1" fill="#ccd"/><rect x="1226.6" y="201.7" width="4" height="1" fill="#2ecc40" opacity="0.75"/>
<rect x="1241.5" y="189.5" width="6" height="5.3" fill="#f4f4f4"/>
<rect x="1248.5" y="191.8" width="2.6" height="1" fill="#9aa2c0"/>
<rect x="1240.0" y="196.3" width="3" height="1" fill="#ccd"/><rect x="1245.0" y="196.3" width="4" height="1" fill="#2ecc40" opacity="0.75"/>
<rect x="1240.0" y="198.1" width="3" height="1" fill="#ccd"/><rect x="1245.0" y="198.1" width="8" height="1" fill="#2ecc40" opacity="0.75"/>
<rect x="1236.0" y="199.9" width="7" height="1" fill="#ccd"/><rect x="1245.0" y="199.9" width="4" height="1" fill="#2ecc40" opacity="0.75"/>
<rect x="1240.0" y="201.7" width="3" height="1" fill="#ccd"/><rect x="1245.0" y="201.7" width="4" height="1" fill="#2ecc40" opacity="0.75"/>
<rect x="1259.9" y="189.5" width="6" height="5.3" fill="#f4f4f4"/>
<rect x="1266.9" y="191.8" width="2.6" height="1" fill="#9aa2c0"/>
<rect x="1258.4" y="196.3" width="3" height="1" fill="#ccd"/><rect x="1263.4" y="196.3" width="4" height="1" fill="#2ecc40" opacity="0.75"/>
<rect x="1258.4" y="198.1" width="3" height="1" fill="#ccd"/><rect x="1263.4" y="198.1" width="8" height="1" fill="#2ecc40" opacity="0.75"/>
<rect x="1254.4" y="199.9" width="7" height="1" fill="#ccd"/><rect x="1263.4" y="199.9" width="4" height="1" fill="#2ecc40" opacity="0.75"/>
<rect x="1258.4" y="201.7" width="3" height="1" fill="#ccd"/><rect x="1263.4" y="201.7" width="4" height="1" fill="#2ecc40" opacity="0.75"/>
<rect x="1278.3" y="189.5" width="6" height="5.3" fill="#f4f4f4"/>
<rect x="1285.3" y="191.8" width="2.6" height="1" fill="#9aa2c0"/>
<rect x="1276.8" y="196.3" width="3" height="1" fill="#ccd"/><rect x="1281.8" y="196.3" width="4" height="1" fill="#2ecc40" opacity="0.75"/>
<rect x="1276.8" y="198.1" width="3" height="1" fill="#ccd"/><rect x="1281.8" y="198.1" width="8" height="1" fill="#2ecc40" opacity="0.75"/>
<rect x="1272.8" y="199.9" width="7" height="1" fill="#ccd"/><rect x="1281.8" y="199.9" width="4" height="1" fill="#2ecc40" opacity="0.75"/>
<rect x="1276.8" y="201.7" width="3" height="1" fill="#ccd"/><rect x="1281.8" y="201.7" width="4" height="1" fill="#2ecc40" opacity="0.75"/>
<rect x="1112.7" y="213.1" width="6" height="5.3" fill="#f4f4f4"/>
<rect x="1119.7" y="215.4" width="2.6" height="1" fill="#9aa2c0"/>
<rect x="1111.2" y="219.9" width="3" height="1" fill="#ccd"/><rect x="1116.2" y="219.9" width="4" height="1" fill="#2ecc40" opacity="0.75"/>
<rect x="1111.2" y="221.7" width="3" height="1" fill="#ccd"/><rect x="1116.2" y="221.7" width="8" height="1" fill="#2ecc40" opacity="0.75"/>
<rect x="1107.2" y="223.5" width="7" height="1" fill="#ccd"/><rect x="1116.2" y="223.5" width="4" height="1" fill="#2ecc40" opacity="0.75"/>
<rect x="1111.2" y="225.3" width="3" height="1" fill="#ccd"/><rect x="1116.2" y="225.3" width="4" height="1" fill="#2ecc40" opacity="0.75"/>
<rect x="1131.1" y="213.1" width="6" height="5.3" fill="#f4f4f4"/>
<rect x="1138.1" y="215.4" width="2.6" height="1" fill="#9aa2c0"/>
<rect x="1129.6" y="219.9" width="3" height="1" fill="#ccd"/><rect x="1134.6" y="219.9" width="4" height="1" fill="#2ecc40" opacity="0.75"/>
<rect x="1129.6" y="221.7" width="3" height="1" fill="#ccd"/><rect x="1134.6" y="221.7" width="8" height="1" fill="#2ecc40" opacity="0.75"/>
<rect x="1125.6" y="223.5" width="7" height="1" fill="#ccd"/><rect x="1134.6" y="223.5" width="4" height="1" fill="#2ecc40" opacity="0.75"/>
<rect x="1129.6" y="225.3" width="3" height="1" fill="#ccd"/><rect x="1134.6" y="225.3" width="4" height="1" fill="#2ecc40" opacity="0.75"/>
<rect x="1149.5" y="213.1" width="6" height="5.3" fill="#f4f4f4"/>
<rect x="1156.5" y="215.4" width="2.6" height="1" fill="#9aa2c0"/>
<rect x="1148.0" y="219.9" width="3" height="1" fill="#ccd"/><rect x="1153.0" y="219.9" width="4" height="1" fill="#2ecc40" opacity="0.75"/>
<rect x="1148.0" y="221.7" width="3" height="1" fill="#ccd"/><rect x="1153.0" y="221.7" width="8" height="1" fill="#2ecc40" opacity="0.75"/>
<rect x="1144.0" y="223.5" width="7" height="1" fill="#ccd"/><rect x="1153.0" y="223.5" width="4" height="1" fill="#2ecc40" opacity="0.75"/>
<rect x="1148.0" y="225.3" width="3" height="1" fill="#ccd"/><rect x="1153.0" y="225.3" width="4" height="1" fill="#2ecc40" opacity="0.75"/>
<rect x="1167.9" y="213.1" width="6" height="5.3" fill="#f4f4f4"/>
<rect x="1174.9" y="215.4" width="2.6" height="1" fill="#9aa2c0"/>
<rect x="1166.4" y="219.9" width="3" height="1" fill="#ccd"/><rect x="1171.4" y="219.9" width="4" height="1" fill="#2ecc40" opacity="0.75"/>
<rect x="1166.4" y="221.7" width="3" height="1" fill="#ccd"/><rect x="1171.4" y="221.7" width="8" height="1" fill="#2ecc40" opacity="0.75"/>
<rect x="1162.4" y="223.5" width="7" height="1" fill="#ccd"/><rect x="1171.4" y="223.5" width="4" height="1" fill="#2ecc40" opacity="0.75"/>
<rect x="1166.4" y="225.3" width="3" height="1" fill="#ccd"/><rect x="1171.4" y="225.3" width="4" height="1" fill="#2ecc40" opacity="0.75"/>
<rect x="1186.3" y="213.1" width="6" height="5.3" fill="#f4f4f4"/>
<rect x="1193.3" y="215.4" width="2.6" height="1" fill="#9aa2c0"/>
<rect x="1184.8" y="219.9" width="3" height="1" fill="#ccd"/><rect x="1189.8" y="219.9" width="4" height="1" fill="#2ecc40" opacity="0.75"/>
<rect x="1184.8" y="221.7" width="3" height="1" fill="#ccd"/><rect x="1189.8" y="221.7" width="8" height="1" fill="#2ecc40" opacity="0.75"/>
<rect x="1180.8" y="223.5" width="7" height="1" fill="#ccd"/><rect x="1189.8" y="223.5" width="4" height="1" fill="#2ecc40" opacity="0.75"/>
<rect x="1184.8" y="225.3" width="3" height="1" fill="#ccd"/><rect x="1189.8" y="225.3" width="4" height="1" fill="#2ecc40" opacity="0.75"/>
<rect x="1204.7" y="213.1" width="6" height="5.3" fill="#f4f4f4"/>
<rect x="1211.7" y="215.4" width="2.6" height="1" fill="#9aa2c0"/>
<rect x="1203.2" y="219.9" width="3" height="1" fill="#ccd"/><rect x="1208.2" y="219.9" width="4" height="1" fill="#2ecc40" opacity="0.75"/>
<rect x="1203.2" y="221.7" width="3" height="1" fill="#ccd"/><rect x="1208.2" y="221.7" width="8" height="1" fill="#2ecc40" opacity="0.75"/>
<rect x="1199.2" y="223.5" width="7" height="1" fill="#ccd"/><rect x="1208.2" y="223.5" width="4" height="1" fill="#2ecc40" opacity="0.75"/>
<rect x="1203.2" y="225.3" width="3" height="1" fill="#ccd"/><rect x="1208.2" y="225.3" width="4" height="1" fill="#2ecc40" opacity="0.75"/>
<rect x="1223.1" y="213.1" width="6" height="5.3" fill="#f4f4f4"/>
<rect x="1230.1" y="215.4" width="2.6" height="1" fill="#9aa2c0"/>
<rect x="1221.6" y="219.9" width="3" height="1" fill="#ccd"/><rect x="1226.6" y="219.9" width="4" height="1" fill="#2ecc40" opacity="0.75"/>
<rect x="1221.6" y="221.7" width="3" height="1" fill="#ccd"/><rect x="1226.6" y="221.7" width="8" height="1" fill="#2ecc40" opacity="0.75"/>
<rect x="1217.6" y="223.5" width="7" height="1" fill="#ccd"/><rect x="1226.6" y="223.5" width="4" height="1" fill="#2ecc40" opacity="0.75"/>
<rect x="1221.6" y="225.3" width="3" height="1" fill="#ccd"/><rect x="1226.6" y="225.3" width="4" height="1" fill="#2ecc40" opacity="0.75"/>
<rect x="1241.5" y="213.1" width="6" height="5.3" fill="#f4f4f4"/>
<rect x="1248.5" y="215.4" width="2.6" height="1" fill="#9aa2c0"/>
<rect x="1240.0" y="219.9" width="3" height="1" fill="#ccd"/><rect x="1245.0" y="219.9" width="4" height="1" fill="#2ecc40" opacity="0.75"/>
<rect x="1240.0" y="221.7" width="3" height="1" fill="#ccd"/><rect x="1245.0" y="221.7" width="8" height="1" fill="#2ecc40" opacity="0.75"/>
<rect x="1236.0" y="223.5" width="7" height="1" fill="#ccd"/><rect x="1245.0" y="223.5" width="4" height="1" fill="#2ecc40" opacity="0.75"/>
<rect x="1240.0" y="225.3" width="3" height="1" fill="#ccd"/><rect x="1245.0" y="225.3" width="4" height="1" fill="#2ecc40" opacity="0.75"/>
<rect x="1259.9" y="213.1" width="6" height="5.3" fill="#f4f4f4"/>
<rect x="1266.9" y="215.4" width="2.6" height="1" fill="#9aa2c0"/>
<rect x="1258.4" y="219.9" width="3" height="1" fill="#ccd"/><rect x="1263.4" y="219.9" width="4" height="1" fill="#2ecc40" opacity="0.75"/>
<rect x="1258.4" y="221.7" width="3" height="1" fill="#ccd"/><rect x="1263.4" y="221.7" width="8" height="1" fill="#2ecc40" opacity="0.75"/>
<rect x="1254.4" y="223.5" width="7" height="1" fill="#ccd"/><rect x="1263.4" y="223.5" width="4" height="1" fill="#2ecc40" opacity="0.75"/>
<rect x="1258.4" y="225.3" width="3" height="1" fill="#ccd"/><rect x="1263.4" y="225.3" width="4" height="1" fill="#2ecc40" opacity="0.75"/>
<rect x="1278.3" y="213.1" width="6" height="5.3" fill="#f4f4f4"/>
<rect x="1285.3" y="215.4" width="2.6" height="1" fill="#9aa2c0"/>
<rect x="1276.8" y="219.9" width="3" height="1" fill="#ccd"/><rect x="1281.8" y="219.9" width="4" height="1" fill="#2ecc40" opacity="0.75"/>
<rect x="1276.8" y="221.7" width="3" height="1" fill="#ccd"/><rect x="1281.8" y="221.7" width="8" height="1" fill="#2ecc40" opacity="0.75"/>
<rect x="1272.8" y="223.5" width="7" height="1" fill="#ccd"/><rect x="1281.8" y="223.5" width="4" height="1" fill="#2ecc40" opacity="0.75"/>
<rect x="1276.8" y="225.3" width="3" height="1" fill="#ccd"/><rect x="1281.8" y="225.3" width="4" height="1" fill="#2ecc40" opacity="0.75"/>
<rect x="1112.7" y="236.7" width="6" height="5.3" fill="#f4f4f4"/>
<rect x="1119.7" y="239.0" width="2.6" height="1" fill="#9aa2c0"/>
<rect x="1111.2" y="243.5" width="3" height="1" fill="#ccd"/><rect x="1116.2" y="243.5" width="4" height="1" fill="#2ecc40" opacity="0.75"/>
<rect x="1111.2" y="245.3" width="3" height="1" fill="#ccd"/><rect x="1116.2" y="245.3" width="8" height="1" fill="#2ecc40" opacity="0.75"/>
<rect x="1107.2" y="247.1" width="7" height="1" fill="#ccd"/><rect x="1116.2" y="247.1" width="4" height="1" fill="#2ecc40" opacity="0.75"/>
<rect x="1111.2" y="248.9" width="3" height="1" fill="#ccd"/><rect x="1116.2" y="248.9" width="4" height="1" fill="#2ecc40" opacity="0.75"/>
<rect x="1131.1" y="236.7" width="6" height="5.3" fill="#f4f4f4"/>
<rect x="1138.1" y="239.0" width="2.6" height="1" fill="#9aa2c0"/>
<rect x="1129.6" y="243.5" width="3" height="1" fill="#ccd"/><rect x="1134.6" y="243.5" width="4" height="1" fill="#2ecc40" opacity="0.75"/>
<rect x="1129.6" y="245.3" width="3" height="1" fill="#ccd"/><rect x="1134.6" y="245.3" width="8" height="1" fill="#2ecc40" opacity="0.75"/>
<rect x="1125.6" y="247.1" width="7" height="1" fill="#ccd"/><rect x="1134.6" y="247.1" width="4" height="1" fill="#2ecc40" opacity="0.75"/>
<rect x="1129.6" y="248.9" width="3" height="1" fill="#ccd"/><rect x="1134.6" y="248.9" width="4" height="1" fill="#2ecc40" opacity="0.75"/>
<rect x="1149.5" y="236.7" width="6" height="5.3" fill="#f4f4f4"/>
<rect x="1156.5" y="239.0" width="2.6" height="1" fill="#9aa2c0"/>
<rect x="1148.0" y="243.5" width="3" height="1" fill="#ccd"/><rect x="1153.0" y="243.5" width="4" height="1" fill="#2ecc40" opacity="0.75"/>
<rect x="1148.0" y="245.3" width="3" height="1" fill="#ccd"/><rect x="1153.0" y="245.3" width="8" height="1" fill="#2ecc40" opacity="0.75"/>
<rect x="1144.0" y="247.1" width="7" height="1" fill="#ccd"/><rect x="1153.0" y="247.1" width="4" height="1" fill="#2ecc40" opacity="0.75"/>
<rect x="1148.0" y="248.9" width="3" height="1" fill="#ccd"/><rect x="1153.0" y="248.9" width="4" height="1" fill="#2ecc40" opacity="0.75"/>
<rect x="1167.9" y="236.7" width="6" height="5.3" fill="#f4f4f4"/>
<rect x="1174.9" y="239.0" width="2.6" height="1" fill="#9aa2c0"/>
<rect x="1166.4" y="243.5" width="3" height="1" fill="#ccd"/><rect x="1171.4" y="243.5" width="4" height="1" fill="#2ecc40" opacity="0.75"/>
<rect x="1166.4" y="245.3" width="3" height="1" fill="#ccd"/><rect x="1171.4" y="245.3" width="8" height="1" fill="#2ecc40" opacity="0.75"/>
<rect x="1162.4" y="247.1" width="7" height="1" fill="#ccd"/><rect x="1171.4" y="247.1" width="4" height="1" fill="#2ecc40" opacity="0.75"/>
<rect x="1166.4" y="248.9" width="3" height="1" fill="#ccd"/><rect x="1171.4" y="248.9" width="4" height="1" fill="#2ecc40" opacity="0.75"/>
<rect x="1186.3" y="236.7" width="6" height="5.3" fill="#f4f4f4"/>
<rect x="1193.3" y="239.0" width="2.6" height="1" fill="#9aa2c0"/>
<rect x="1184.8" y="243.5" width="3" height="1" fill="#ccd"/><rect x="1189.8" y="243.5" width="4" height="1" fill="#2ecc40" opacity="0.75"/>
<rect x="1184.8" y="245.3" width="3" height="1" fill="#ccd"/><rect x="1189.8" y="245.3" width="8" height="1" fill="#2ecc40" opacity="0.75"/>
<rect x="1180.8" y="247.1" width="7" height="1" fill="#ccd"/><rect x="1189.8" y="247.1" width="4" height="1" fill="#2ecc40" opacity="0.75"/>
<rect x="1184.8" y="248.9" width="3" height="1" fill="#ccd"/><rect x="1189.8" y="248.9" width="4" height="1" fill="#2ecc40" opacity="0.75"/>
<rect x="1204.7" y="236.7" width="6" height="5.3" fill="#f4f4f4"/>
<rect x="1211.7" y="239.0" width="2.6" height="1" fill="#9aa2c0"/>
<rect x="1203.2" y="243.5" width="3" height="1" fill="#ccd"/><rect x="1208.2" y="243.5" width="4" height="1" fill="#2ecc40" opacity="0.75"/>
<rect x="1203.2" y="245.3" width="3" height="1" fill="#ccd"/><rect x="1208.2" y="245.3" width="8" height="1" fill="#2ecc40" opacity="0.75"/>
<rect x="1199.2" y="247.1" width="7" height="1" fill="#ccd"/><rect x="1208.2" y="247.1" width="4" height="1" fill="#2ecc40" opacity="0.75"/>
<rect x="1203.2" y="248.9" width="3" height="1" fill="#ccd"/><rect x="1208.2" y="248.9" width="4" height="1" fill="#2ecc40" opacity="0.75"/>
<rect x="1223.1" y="236.7" width="6" height="5.3" fill="#f4f4f4"/>
<rect x="1230.1" y="239.0" width="2.6" height="1" fill="#9aa2c0"/>
<rect x="1221.6" y="243.5" width="3" height="1" fill="#ccd"/><rect x="1226.6" y="243.5" width="4" height="1" fill="#2ecc40" opacity="0.75"/>
<rect x="1221.6" y="245.3" width="3" height="1" fill="#ccd"/><rect x="1226.6" y="245.3" width="8" height="1" fill="#2ecc40" opacity="0.75"/>
<rect x="1217.6" y="247.1" width="7" height="1" fill="#ccd"/><rect x="1226.6" y="247.1" width="4" height="1" fill="#2ecc40" opacity="0.75"/>
<rect x="1221.6" y="248.9" width="3" height="1" fill="#ccd"/><rect x="1226.6" y="248.9" width="4" height="1" fill="#2ecc40" opacity="0.75"/>
<rect x="1241.5" y="236.7" width="6" height="5.3" fill="#f4f4f4"/>
<rect x="1248.5" y="239.0" width="2.6" height="1" fill="#9aa2c0"/>
<rect x="1240.0" y="243.5" width="3" height="1" fill="#ccd"/><rect x="1245.0" y="243.5" width="4" height="1" fill="#2ecc40" opacity="0.75"/>
<rect x="1240.0" y="245.3" width="3" height="1" fill="#ccd"/><rect x="1245.0" y="245.3" width="8" height="1" fill="#2ecc40" opacity="0.75"/>
<rect x="1236.0" y="247.1" width="7" height="1" fill="#ccd"/><rect x="1245.0" y="247.1" width="4" height="1" fill="#2ecc40" opacity="0.75"/>
<rect x="1240.0" y="248.9" width="3" height="1" fill="#ccd"/><rect x="1245.0" y="248.9" width="4" height="1" fill="#2ecc40" opacity="0.75"/>
<rect x="1259.9" y="236.7" width="6" height="5.3" fill="#f4f4f4"/>
<rect x="1266.9" y="239.0" width="2.6" height="1" fill="#9aa2c0"/>
<rect x="1258.4" y="243.5" width="3" height="1" fill="#ccd"/><rect x="1263.4" y="243.5" width="4" height="1" fill="#2ecc40" opacity="0.75"/>
<rect x="1258.4" y="245.3" width="3" height="1" fill="#ccd"/><rect x="1263.4" y="245.3" width="8" height="1" fill="#2ecc40" opacity="0.75"/>
<rect x="1254.4" y="247.1" width="7" height="1" fill="#ccd"/><rect x="1263.4" y="247.1" width="4" height="1" fill="#2ecc40" opacity="0.75"/>
<rect x="1258.4" y="248.9" width="3" height="1" fill="#ccd"/><rect x="1263.4" y="248.9" width="4" height="1" fill="#2ecc40" opacity="0.75"/>
<rect x="1278.3" y="236.7" width="6" height="5.3" fill="#f4f4f4"/>
<rect x="1285.3" y="239.0" width="2.6" height="1" fill="#9aa2c0"/>
<rect x="1276.8" y="243.5" width="3" height="1" fill="#ccd"/><rect x="1281.8" y="243.5" width="4" height="1" fill="#2ecc40" opacity="0.75"/>
<rect x="1276.8" y="245.3" width="3" height="1" fill="#ccd"/><rect x="1281.8" y="245.3" width="8" height="1" fill="#2ecc40" opacity="0.75"/>
<rect x="1272.8" y="247.1" width="7" height="1" fill="#ccd"/><rect x="1281.8" y="247.1" width="4" height="1" fill="#2ecc40" opacity="0.75"/>
<rect x="1276.8" y="248.9" width="3" height="1" fill="#ccd"/><rect x="1281.8" y="248.9" width="4" height="1" fill="#2ecc40" opacity="0.75"/>
<rect x="1112.7" y="260.3" width="6" height="5.3" fill="#f4f4f4"/>
<rect x="1119.7" y="262.6" width="2.6" height="1" fill="#9aa2c0"/>
<rect x="1111.2" y="267.1" width="3" height="1" fill="#ccd"/><rect x="1116.2" y="267.1" width="4" height="1" fill="#2ecc40" opacity="0.75"/>
<rect x="1111.2" y="268.9" width="3" height="1" fill="#ccd"/><rect x="1116.2" y="268.9" width="8" height="1" fill="#2ecc40" opacity="0.75"/>
<rect x="1107.2" y="270.7" width="7" height="1" fill="#ccd"/><rect x="1116.2" y="270.7" width="4" height="1" fill="#2ecc40" opacity="0.75"/>
<rect x="1111.2" y="272.5" width="3" height="1" fill="#ccd"/><rect x="1116.2" y="272.5" width="4" height="1" fill="#2ecc40" opacity="0.75"/>
<rect x="1131.1" y="260.3" width="6" height="5.3" fill="#f4f4f4"/>
<rect x="1138.1" y="262.6" width="2.6" height="1" fill="#9aa2c0"/>
<rect x="1129.6" y="267.1" width="3" height="1" fill="#ccd"/><rect x="1134.6" y="267.1" width="4" height="1" fill="#2ecc40" opacity="0.75"/>
<rect x="1129.6" y="268.9" width="3" height="1" fill="#ccd"/><rect x="1134.6" y="268.9" width="8" height="1" fill="#2ecc40" opacity="0.75"/>
<rect x="1125.6" y="270.7" width="7" height="1" fill="#ccd"/><rect x="1134.6" y="270.7" width="4" height="1" fill="#2ecc40" opacity="0.75"/>
<rect x="1129.6" y="272.5" width="3" height="1" fill="#ccd"/><rect x="1134.6" y="272.5" width="4" height="1" fill="#2ecc40" opacity="0.75"/>
<rect x="1149.5" y="260.3" width="6" height="5.3" fill="#f4f4f4"/>
<rect x="1156.5" y="262.6" width="2.6" height="1" fill="#9aa2c0"/>
<rect x="1148.0" y="267.1" width="3" height="1" fill="#ccd"/><rect x="1153.0" y="267.1" width="4" height="1" fill="#2ecc40" opacity="0.75"/>
<rect x="1148.0" y="268.9" width="3" height="1" fill="#ccd"/><rect x="1153.0" y="268.9" width="8" height="1" fill="#2ecc40" opacity="0.75"/>
<rect x="1144.0" y="270.7" width="7" height="1" fill="#ccd"/><rect x="1153.0" y="270.7" width="4" height="1" fill="#2ecc40" opacity="0.75"/>
<rect x="1148.0" y="272.5" width="3" height="1" fill="#ccd"/><rect x="1153.0" y="272.5" width="4" height="1" fill="#2ecc40" opacity="0.75"/>
<rect x="1167.9" y="260.3" width="6" height="5.3" fill="#f4f4f4"/>
<rect x="1174.9" y="262.6" width="2.6" height="1" fill="#9aa2c0"/>
<rect x="1166.4" y="267.1" width="3" height="1" fill="#ccd"/><rect x="1171.4" y="267.1" width="4" height="1" fill="#2ecc40" opacity="0.75"/>
<rect x="1166.4" y="268.9" width="3" height="1" fill="#ccd"/><rect x="1171.4" y="268.9" width="8" height="1" fill="#2ecc40" opacity="0.75"/>
<rect x="1162.4" y="270.7" width="7" height="1" fill="#ccd"/><rect x="1171.4" y="270.7" width="4" height="1" fill="#2ecc40" opacity="0.75"/>
<rect x="1166.4" y="272.5" width="3" height="1" fill="#ccd"/><rect x="1171.4" y="272.5" width="4" height="1" fill="#2ecc40" opacity="0.75"/>
<rect x="1186.3" y="260.3" width="6" height="5.3" fill="#f4f4f4"/>
<rect x="1193.3" y="262.6" width="2.6" height="1" fill="#9aa2c0"/>
<rect x="1184.8" y="267.1" width="3" height="1" fill="#ccd"/><rect x="1189.8" y="267.1" width="4" height="1" fill="#2ecc40" opacity="0.75"/>
<rect x="1184.8" y="268.9" width="3" height="1" fill="#ccd"/><rect x="1189.8" y="268.9" width="8" height="1" fill="#2ecc40" opacity="0.75"/>
<rect x="1180.8" y="270.7" width="7" height="1" fill="#ccd"/><rect x="1189.8" y="270.7" width="4" height="1" fill="#2ecc40" opacity="0.75"/>
<rect x="1184.8" y="272.5" width="3" height="1" fill="#ccd"/><rect x="1189.8" y="272.5" width="4" height="1" fill="#2ecc40" opacity="0.75"/>
<rect x="1204.7" y="260.3" width="6" height="5.3" fill="#f4f4f4"/>
<rect x="1211.7" y="262.6" width="2.6" height="1" fill="#9aa2c0"/>
<rect x="1203.2" y="267.1" width="3" height="1" fill="#ccd"/><rect x="1208.2" y="267.1" width="4" height="1" fill="#2ecc40" opacity="0.75"/>
<rect x="1203.2" y="268.9" width="3" height="1" fill="#ccd"/><rect x="1208.2" y="268.9" width="8" height="1" fill="#2ecc40" opacity="0.75"/>
<rect x="1199.2" y="270.7" width="7" height="1" fill="#ccd"/><rect x="1208.2" y="270.7" width="4" height="1" fill="#2ecc40" opacity="0.75"/>
<rect x="1203.2" y="272.5" width="3" height="1" fill="#ccd"/><rect x="1208.2" y="272.5" width="4" height="1" fill="#2ecc40" opacity="0.75"/>
<rect x="1223.1" y="260.3" width="6" height="5.3" fill="#f4f4f4"/>
<rect x="1230.1" y="262.6" width="2.6" height="1" fill="#9aa2c0"/>
<rect x="1221.6" y="267.1" width="3" height="1" fill="#ccd"/><rect x="1226.6" y="267.1" width="4" height="1" fill="#2ecc40" opacity="0.75"/>
<rect x="1221.6" y="268.9" width="3" height="1" fill="#ccd"/><rect x="1226.6" y="268.9" width="8" height="1" fill="#2ecc40" opacity="0.75"/>
<rect x="1217.6" y="270.7" width="7" height="1" fill="#ccd"/><rect x="1226.6" y="270.7" width="4" height="1" fill="#2ecc40" opacity="0.75"/>
<rect x="1221.6" y="272.5" width="3" height="1" fill="#ccd"/><rect x="1226.6" y="272.5" width="4" height="1" fill="#2ecc40" opacity="0.75"/>
<rect x="1241.5" y="260.3" width="6" height="5.3" fill="#f4f4f4"/>
<rect x="1248.5" y="262.6" width="2.6" height="1" fill="#9aa2c0"/>
<rect x="1240.0" y="267.1" width="3" height="1" fill="#ccd"/><rect x="1245.0" y="267.1" width="4" height="1" fill="#2ecc40" opacity="0.75"/>
<rect x="1240.0" y="268.9" width="3" height="1" fill="#ccd"/><rect x="1245.0" y="268.9" width="8" height="1" fill="#2ecc40" opacity="0.75"/>
<rect x="1236.0" y="270.7" width="7" height="1" fill="#ccd"/><rect x="1245.0" y="270.7" width="4" height="1" fill="#2ecc40" opacity="0.75"/>
<rect x="1240.0" y="272.5" width="3" height="1" fill="#ccd"/><rect x="1245.0" y="272.5" width="4" height="1" fill="#2ecc40" opacity="0.75"/>
<rect x="1259.9" y="260.3" width="6" height="5.3" fill="#f4f4f4"/>
<rect x="1266.9" y="262.6" width="2.6" height="1" fill="#9aa2c0"/>
<rect x="1258.4" y="267.1" width="3" height="1" fill="#ccd"/><rect x="1263.4" y="267.1" width="4" height="1" fill="#2ecc40" opacity="0.75"/>
<rect x="1258.4" y="268.9" width="3" height="1" fill="#ccd"/><rect x="1263.4" y="268.9" width="8" height="1" fill="#2ecc40" opacity="0.75"/>
<rect x="1254.4" y="270.7" width="7" height="1" fill="#ccd"/><rect x="1263.4" y="270.7" width="4" height="1" fill="#2ecc40" opacity="0.75"/>
<rect x="1258.4" y="272.5" width="3" height="1" fill="#ccd"/><rect x="1263.4" y="272.5" width="4" height="1" fill="#2ecc40" opacity="0.75"/>
<rect x="1278.3" y="260.3" width="6" height="5.3" fill="#f4f4f4"/>
<rect x="1285.3" y="262.6" width="2.6" height="1" fill="#9aa2c0"/>
<rect x="1276.8" y="267.1" width="3" height="1" fill="#ccd"/><rect x="1281.8" y="267.1" width="4" height="1" fill="#2ecc40" opacity="0.75"/>
<rect x="1276.8" y="268.9" width="3" height="1" fill="#ccd"/><rect x="1281.8" y="268.9" width="8" height="1" fill="#2ecc40" opacity="0.75"/>
<rect x="1272.8" y="270.7" width="7" height="1" fill="#ccd"/><rect x="1281.8" y="270.7" width="4" height="1" fill="#2ecc40" opacity="0.75"/>
<rect x="1276.8" y="272.5" width="3" height="1" fill="#ccd"/><rect x="1281.8" y="272.5" width="4" height="1" fill="#2ecc40" opacity="0.75"/>
</g>
<g id="batts" shape-rendering="auto">
<defs>
 <linearGradient id="bfront" x1="0" y1="0" x2="0" y2="1"><stop offset="0" stop-color="#e0e3e8"/><stop offset="0.55" stop-color="#d6d9e0"/><stop offset="0.75" stop-color="#cdd1d8"/><stop offset="1" stop-color="#c4c9d1"/></linearGradient>
 <linearGradient id="bshadow" x1="0" y1="0" x2="1" y2="0.3"><stop offset="0" stop-color="#a9aeb6"/><stop offset="1" stop-color="#ffffff" stop-opacity="0"/></linearGradient>
 <g id="battery">
  <rect x="0.5" y="0.5" width="92" height="97" fill="#fff" stroke="#e2e2e2" stroke-width="0.9"/>
  <polygon points="80.9,40 92,52 92,97 52,97 56.1,93 80.9,81" fill="url(#bshadow)" opacity="0.6"/>
  <polygon points="13.6,11.7 80.9,12.5 80.9,81 56.1,93 17.3,88" fill="url(#bfront)"/>
  <polygon points="60,12.3 80.9,12.5 80.9,81 56.1,93" fill="#c6cbd3" opacity="0.45"/>
  <polygon points="13.6,11.7 80.9,12.5 80.9,15.5 13.8,15" fill="#eceef2"/>
  <ellipse cx="35.5" cy="9.2" rx="3.8" ry="2.2" fill="#c0774f"/>
  <rect x="43.5" y="4.5" width="8" height="6" rx="2.5" fill="#eef0f3" stroke="#d4d8de" stroke-width="0.4"/>
  <ellipse cx="59.3" cy="11" rx="3.8" ry="2.2" fill="#3f8ed6"/>
  <g fill="#4a4f5a">
   <rect x="26.7" y="28" width="9" height="1.8"/><rect x="39" y="28.4" width="6" height="1.2"/>
   <rect x="27.3" y="34" width="12" height="0.9" opacity="0.6"/><rect x="27.3" y="35.8" width="9" height="0.6" opacity="0.5"/>
   <rect x="29.8" y="40.3" width="2.5" height="1.6" opacity="0.7"/><rect x="34" y="40.3" width="2.5" height="1.6" opacity="0.7"/><rect x="29.8" y="42.6" width="7" height="0.6" opacity="0.5"/>
   <rect x="22.8" y="46.3" width="24" height="0.9" opacity="0.55"/><rect x="45.5" y="46" width="2" height="1.5"/>
  </g>
 </g>
 <g id="module">
  <rect x="-4" y="0" width="0.7" height="46" fill="#e6e6e6"/>
  <rect x="-4.2" y="17.5" width="5" height="8" rx="1.2" fill="#1a1a1a"/>
  <rect x="32" y="17.5" width="5" height="8" rx="1.2" fill="#1a1a1a"/>
  <circle cx="-1.7" cy="21.5" r="1.3" fill="#fff"/>
  <circle cx="34.5" cy="21.5" r="1.3" fill="#fff"/>
  <rect x="0" y="0" width="33" height="45.5" rx="2.5" fill="#141414"/>
  <rect x="1" y="1" width="31" height="22" rx="2" fill="#1d1d1d"/>
  <g stroke="#2a2a2a" stroke-width="0.5"><line x1="2" y1="4" x2="31" y2="4"/><line x1="2" y1="7" x2="31" y2="7"/><line x1="2" y1="10" x2="31" y2="10"/><line x1="2" y1="13" x2="31" y2="13"/><line x1="2" y1="16" x2="31" y2="16"/><line x1="2" y1="19" x2="31" y2="19"/></g>
  <rect x="6.5" y="27" width="20" height="5" fill="#000"/>
  <rect x="2" y="39" width="29" height="4" fill="#1f1f1f"/>
  <circle cx="28" cy="40.5" r="1.6" fill="#3a3a3a"/>
  <circle cx="3.5" cy="36" r="0.7" fill="#777"/>
 </g>
</defs>

<use href="#battery" x="377.7" y="423"/>
<use href="#battery" x="488.4" y="423"/>
<use href="#battery" x="599.2" y="423"/>
<use href="#battery" x="710.6" y="423"/>
<use href="#battery" x="819.3" y="423"/>
<use href="#module" x="399.0" y="534"/>
<use href="#module" x="510.0" y="534"/>
<use href="#module" x="622.0" y="534"/>
<use href="#module" x="731.5" y="534"/>
<use href="#module" x="843.5" y="534"/>
<use href="#module" x="264.7" y="534.6"/>
<text x="269" y="556.5" font-family="Liberation Sans" font-size="3.2" fill="#555">TC MODULE</text>
<rect x="259" y="534" width="44.5" height="46" fill="none" stroke="#ececec" stroke-width="0.6"/>
<rect x="264.5" y="364.5" width="49" height="70.5" fill="#fff" stroke="#e0e0e0" stroke-width="0.8"/>
<polygon points="267.7,421.4 276.5,418 301.3,422 308.4,428 306,432.5 297.8,431.5 267.7,424.8" fill="#4f565d"/>
<polygon points="277.7,404 299,404 301.3,424 276.5,421" fill="#5b6269"/>
<circle cx="281.3" cy="418.5" r="1.9" fill="#cfc8b4"/><circle cx="289" cy="420.8" r="1.9" fill="#cfc8b4"/>
<ellipse cx="292" cy="386.8" rx="18" ry="19" fill="#555c63"/>
<ellipse cx="286" cy="386.8" rx="17.7" ry="18.9" fill="#656c74"/>
<ellipse cx="288.5" cy="389.8" rx="10.5" ry="12.8" fill="#4b5259"/>
<ellipse cx="290.3" cy="388.8" rx="9.2" ry="12" fill="#fbfbfb"/>
<path d="M413.6 433 C387.6 452, 388.0 488, 411.0 534" fill="none" stroke="#ec1c1c" stroke-width="1"/>
<path d="M437.2 433.5 C455.2 446, 449.2 478, 420.5 534" fill="none" stroke="#111" stroke-width="1"/>
<path d="M524.2 433 C498.2 452, 498.6 488, 521.6 534" fill="none" stroke="#ec1c1c" stroke-width="1"/>
<path d="M546.5 433.5 C564.5 446, 558.5 478, 531.1 534" fill="none" stroke="#111" stroke-width="1"/>
<path d="M636.4 433 C610.4 452, 611.0 488, 634.0 534" fill="none" stroke="#ec1c1c" stroke-width="1"/>
<path d="M657.0 433.5 C675.0 446, 669.0 478, 643.5 534" fill="none" stroke="#111" stroke-width="1"/>
<path d="M747.3 433 C721.3 452, 721.0 488, 744.0 534" fill="none" stroke="#ec1c1c" stroke-width="1"/>
<path d="M768.4 433.5 C786.4 446, 780.4 478, 753.5 534" fill="none" stroke="#111" stroke-width="1"/>
<path d="M856.4 433 C830.4 452, 832.5 488, 855.5 534" fill="none" stroke="#ec1c1c" stroke-width="1"/>
<path d="M878.7 433.5 C896.7 446, 890.7 478, 865.0 534" fill="none" stroke="#111" stroke-width="1"/>
</g>
<g id="photo" shape-rendering="auto">
<defs>
 <clipPath id="phclip"><rect x="1029" y="384.5" width="305" height="245.5"/></clipPath>
 <linearGradient id="rowtop" x1="0" y1="0" x2="0" y2="1"><stop offset="0" stop-color="#bfc2c2"/><stop offset="1" stop-color="#d2d4d3"/></linearGradient>
 <linearGradient id="rowfront" x1="0" y1="0" x2="0" y2="1"><stop offset="0" stop-color="#b0b2b2"/><stop offset="1" stop-color="#9a9c9c"/></linearGradient>
</defs>
<g clip-path="url(#phclip)">
<rect x="1029" y="384.5" width="305" height="246" fill="#e4e4e4"/>
<rect x="1029" y="384.5" width="305" height="46" fill="#161616"/>
<rect x="1029" y="384.5" width="40" height="4" fill="#5a5a5a"/>
<polygon points="1029,393 1334,391 1334,403 1029,404" fill="#8a8a8a"/>
<polygon points="1029,395 1334,393 1334,397 1029,398" fill="#a8a8a8" opacity="0.7"/>
<rect x="1185" y="386" width="22" height="5" fill="#9a9a9a"/>
<rect x="1029" y="422" width="305" height="3" fill="#2c2c2c"/>
<g stroke="#b02020" stroke-width="1.5" fill="none"><line x1="1175" y1="387" x2="1334" y2="387"/><line x1="1178" y1="387" x2="1170" y2="415.6"/><line x1="1090" y1="414.5" x2="1255" y2="414.5"/><line x1="1090" y1="404" x2="1090" y2="414.5"/><line x1="1266" y1="430" x2="1334" y2="405"/><line x1="1271" y1="432" x2="1271" y2="483.5"/></g>
<g stroke="#cfcfcf" stroke-linecap="round" opacity="0.45">
 <line x1="1029" y1="401" x2="1081" y2="429" stroke-width="6"/>
 <line x1="1228" y1="432" x2="1256" y2="418" stroke-width="6"/>
 <line x1="1270" y1="411" x2="1304" y2="394.5" stroke-width="6.5"/>
 <line x1="1156.5" y1="385" x2="1156.5" y2="421" stroke-width="10"/>
</g>
<g stroke="#fbfbfb" stroke-linecap="round">
 <line x1="1029" y1="401" x2="1081" y2="429" stroke-width="3.2"/>
 <line x1="1228" y1="432" x2="1256" y2="418" stroke-width="3.2"/>
 <line x1="1270" y1="411" x2="1304" y2="394.5" stroke-width="3.8"/>
 <line x1="1156.5" y1="386" x2="1156.5" y2="391" stroke-width="8"/>
 <line x1="1156.5" y1="400" x2="1156.5" y2="407" stroke-width="6.5"/>
 <line x1="1156.5" y1="415" x2="1156.5" y2="420" stroke-width="5.5"/>
</g>
<g fill="#ddd"><rect x="1046" y="410" width="2" height="4"/><rect x="1266" y="412" width="2" height="5"/><rect x="1224" y="431" width="2" height="4"/></g>
<rect x="1029" y="430.5" width="305" height="53" fill="#ebebeb"/>
<polygon points="1272,442 1334,424 1334,487 1272,487" fill="#efefef"/>
<polygon points="1276,433 1308,426 1308,451.5 1276,452" fill="#8e8e8e"/>
<rect x="1289" y="455" width="11.5" height="29" fill="#e2e2e2" stroke="#cacaca" stroke-width="0.6"/>
<rect x="1029" y="427" width="14" height="24" fill="#6e6e6e"/><g stroke="#999" stroke-width="0.5"><line x1="1029" y1="432" x2="1043" y2="432"/><line x1="1029" y1="437" x2="1043" y2="437"/><line x1="1029" y1="442" x2="1043" y2="442"/><line x1="1029" y1="447" x2="1043" y2="447"/></g>
<rect x="1063" y="465" width="25" height="17" fill="#b5bcc4"/>
<rect x="1237.3" y="468.4" width="23.7" height="15.5" fill="#b5bcc4"/>
<rect x="1072" y="456" width="6" height="3.5" fill="#444"/><rect x="1247" y="458" width="6" height="3" fill="#555"/>
<!-- left rack -->
<polygon points="1029,482 1097,481 1097,516 1029,540" fill="#d2d2d2"/>
<g fill="#8a8a8a" opacity="0.45"><polygon points="1029,490 1060,488 1060,494 1029,497"/><polygon points="1029,505 1060,500 1060,506 1029,512"/><polygon points="1029,520 1050,514 1050,520 1029,527"/></g>
<g stroke="#efefef" stroke-width="1.3"><line x1="1029" y1="483" x2="1097" y2="481"/><line x1="1029" y1="499" x2="1097" y2="492"/><line x1="1029" y1="515" x2="1097" y2="502"/><line x1="1029" y1="530" x2="1097" y2="511"/></g>
<g stroke="#f2f2f2" stroke-width="1.6"><line x1="1043" y1="483" x2="1043" y2="533"/><line x1="1058" y1="482" x2="1058" y2="528"/><line x1="1071" y1="482" x2="1071" y2="523"/><line x1="1083" y1="481" x2="1083" y2="519"/><line x1="1094" y1="481" x2="1094" y2="515"/></g>
<!-- right rack -->
<polygon points="1213,481 1334,487 1334,557 1213,504" fill="#c2c2c2"/>
<g fill="#5a5a5a" opacity="0.6"><polygon points="1222,490 1334,497 1334,508 1222,496"/><polygon points="1228,500 1334,515 1334,526 1228,506"/><polygon points="1236,510 1334,533 1334,544 1236,516"/></g>
<g stroke="#f0f0f0" stroke-width="1.5"><line x1="1213" y1="481" x2="1334" y2="487"/><line x1="1213" y1="492" x2="1334" y2="509"/><line x1="1213" y1="500" x2="1334" y2="530"/><line x1="1222" y1="481" x2="1222" y2="508"/><line x1="1237" y1="482" x2="1237" y2="514"/><line x1="1258" y1="483" x2="1258" y2="523"/><line x1="1283" y1="484" x2="1283" y2="534"/><line x1="1313" y1="485" x2="1313" y2="547"/></g>
<polygon points="1213,504 1334,557 1334,585 1188,487 1213,487" fill="#d6d8d8"/>
<!-- left row -->
<polygon points="1127,483.5 1153,483.5 1158.7,602 1029,602 1029,542" fill="url(#rowtop)"/>
<rect x="1029" y="602" width="130" height="28" fill="url(#rowfront)"/>
<rect x="1029" y="612" width="130" height="3" fill="#c8caca"/>
<g stroke="#dcdede" stroke-width="1"><line x1="1029" y1="538" x2="1157" y2="538"/><line x1="1029" y1="561" x2="1157" y2="561"/><line x1="1080" y1="515" x2="1156" y2="515"/><line x1="1110" y1="502" x2="1155" y2="502"/></g>
<g stroke="#cc2a2a" stroke-width="1.5" fill="none"><path d="M1029 542 L1060 525 L1095 507 L1127 487"/><path d="M1029 532 L1050 524"/></g>
<!-- right row -->
<polygon points="1161.3,487 1187.6,487 1334,585 1334,605.7 1170.7,605.7" fill="url(#rowtop)"/>
<polygon points="1172.6,605.7 1334,605.7 1334,630 1178,630" fill="url(#rowfront)"/>
<rect x="1174" y="613" width="160" height="3" fill="#c8caca"/>
<g stroke="#dcdede" stroke-width="1"><line x1="1166" y1="538" x2="1260" y2="538"/><line x1="1168" y1="561" x2="1295" y2="561"/></g>
<g stroke="#cc2a2a" stroke-width="1.6" fill="none"><path d="M1190 490 L1240 518 L1285 545 L1334 563"/><path d="M1280 560 L1310 575 L1334 585"/></g>
<!-- center divider -->
<polygon points="1153,483.5 1161.3,487 1178,630 1158.7,630" fill="#c0c2c2"/>
<g stroke="#161616" stroke-width="1.8" fill="none"><path d="M1156 485 L1158 520 L1156 555 L1162 590 L1160 630"/><path d="M1160 495 L1165 535 L1170 575 L1168 630"/><path d="M1158 540 L1164 545"/><path d="M1160 575 L1168 580"/></g>
<!-- modules -->
<g fill="#1c1c1c">
 <rect x="1042" y="562" width="43" height="19.5"/>
 <rect x="1072" y="538" width="28" height="13"/>
 <rect x="1090" y="525" width="22" height="8.6"/>
 <rect x="1100" y="515" width="18" height="6.6"/>
 <rect x="1108" y="508" width="15" height="5.5"/>
 <rect x="1114" y="502" width="13" height="4.5"/>
 <rect x="1119" y="497" width="12" height="4"/>
 <rect x="1123" y="492" width="11" height="3.5"/>
 <rect x="1127" y="487.5" width="10" height="3"/>
 <rect x="1246" y="560" width="39.4" height="18.6"/>
 <rect x="1223.4" y="537" width="28.2" height="13"/>
 <rect x="1210" y="524" width="22" height="9.5"/>
 <rect x="1201.5" y="514.7" width="18" height="8.3"/>
 <rect x="1194.4" y="508.7" width="14.6" height="6.7"/>
 <rect x="1188" y="503" width="13" height="5"/>
 <rect x="1183" y="498" width="12" height="4.5"/>
 <rect x="1179" y="493" width="10" height="4"/>
 <rect x="1175" y="489" width="9" height="3"/>
</g>
<g stroke="#1a1a1a" stroke-width="1.3" fill="none">
 <path d="M1042 572 Q1035 578 1029 575"/><path d="M1085 570 Q1120 560 1130 548 Q1135 540 1100 540"/><path d="M1072 545 Q1050 545 1040 552"/>
 <path d="M1100 545 Q1125 540 1140 528 Q1130 520 1112 528"/><path d="M1246 570 Q1215 570 1210 590 Q1205 610 1212 630"/><path d="M1223 545 Q1195 548 1196 565 Q1205 575 1246 567"/>
 <path d="M1285 568 Q1310 565 1320 555"/><path d="M1210 530 Q1190 532 1192 542 Q1200 548 1223 545"/>
 <path d="M1090 530 Q1070 532 1060 538"/><path d="M1112 529 Q1140 525 1150 515"/><path d="M1201 520 Q1185 522 1186 530 Q1195 535 1210 530"/><path d="M1219 520 Q1240 516 1262 520"/><path d="M1085 575 Q1120 585 1150 580"/><path d="M1251 545 Q1275 540 1300 548"/>
</g>
</g>
</g>
<g id="arrow" shape-rendering="auto">
<line x1="947" y1="510" x2="1007" y2="510" stroke="#8a8a8a" stroke-width="1" stroke-dasharray="1.2 1.2"/>
<polygon points="1004.5,504.4 1016.5,510 1004.5,515.6 1007.8,510" fill="#000"/>
</g>
<g id="lines" fill="none" stroke-width="1">
  <path d="M80.5 129V268" stroke="#858585" stroke-width="1.2"/>
  <path d="M178.5 108.5H378" stroke="#000"/>
  <path d="M179.5 268V108.5" stroke="#7a7a7a"/>
  <path d="M541 108.5H863" stroke="#000"/>
  <path d="M79 368V629" stroke="#858585" stroke-width="1.3" shape-rendering="auto"/>
  <path d="M78.5 629H901" stroke="#9a9a9a" stroke-width="1.8" shape-rendering="auto"/>
  <path d="M900.5 600.5V629" stroke="#555"/>
  <path d="M108.5 368V601.5H276.5V580" stroke="#3a3a3a"/>
  <path d="M287.5 580V600.5H410" stroke="#444"/>
  <path d="M410.5 579V600.5" stroke="#999"/>
  <path d="M421.5 579V600.5H521" stroke="#333"/>
  <path d="M520.5 579V600.5" stroke="#999"/>
  <path d="M532.5 579V600.5H633" stroke="#333"/>
  <path d="M633.5 579V600.5" stroke="#999"/>
  <path d="M643.5 579V600.5H743" stroke="#333"/>
  <path d="M743.5 579V600.5" stroke="#999"/>
  <path d="M754.5 579V600.5H854" stroke="#333"/>
  <path d="M854.5 579V600.5" stroke="#999"/>
  <path d="M866.5 579V600.5H900.5" stroke="#444"/>
  <path d="M287.5 435V534" stroke="#222"/>
  <path d="M276.5 489V534" stroke="#999"/>
  <g stroke="#8e8e8e" stroke-width="1.6" shape-rendering="auto">
   <path d="M200 389.8H413.5"/><path d="M437 389.8H524.5"/><path d="M546 389.8H636.5"/><path d="M657 389.8H747.5"/><path d="M768 389.8H856.5"/><path d="M878.5 389.8H974"/>
  </g>
  <g stroke="#111">
   <path d="M413.5 389V433"/><path d="M524.5 389V433"/><path d="M546.5 389V433"/><path d="M636.5 389V433"/><path d="M657.5 389V433"/><path d="M747.5 389V433"/><path d="M768.5 389V433"/><path d="M856.5 389V433"/><path d="M878.5 389V433"/>
  </g>
  <path d="M437.5 389V433" stroke="#888"/>
</g>
<rect x="272" y="477" width="11" height="12" fill="#000"/>
</svg>

<div class="t" id="t_hmi" style="left:25px;top:21px;font-size:20px;letter-spacing:0.6px;color:#111">HMI触摸屏</div>
<div class="t" id="t_rs" style="left:250px;top:81px;font-size:19px;color:#333;transform-origin:0 0;transform:scaleX(0.92)">RS485 / RJ45</div>
<div class="t" id="t_tcp" style="left:682px;top:80px;font-size:19px;color:#333;transform-origin:0 0;transform:scaleX(0.925)">TCP/IP</div>
<div class="t" id="t_wg" style="left:446px;top:164px;font-size:20px;color:#222;letter-spacing:1px">网关</div>
<div class="t" id="t_jc" style="left:883px;top:180px;font-size:20px;color:#111;letter-spacing:0.3px">监测平台</div>
<div class="t" id="t_am" style="left:292px;top:299px;font-size:19px;letter-spacing:1.3px;color:#1a1a1a">ABAT-M采集器</div>
<div class="t" id="t_ht" style="left:1108px;top:303px;font-size:18px;color:#333;letter-spacing:0px">后台软件界面</div>
<div class="t" id="t_c" style="left:164px;top:521px;font-size:20px;letter-spacing:0.3px;line-height:24px;color:#222">ABAT-C<br>单组电池<br>监测模块</div>
<div class="t" id="t_s" style="left:315px;top:521px;font-size:20px;letter-spacing:0.3px;line-height:24px;color:#222">ABAT-S<br>单节电池<br>监测模块</div>
<div class="t" id="t_tx" style="left:457px;top:644px;font-size:17px;color:#111;letter-spacing:1.5px">通信线（环形接法）</div>
<div class="t" id="t_az" style="left:1132px;top:642px;font-size:18px;color:#111;">安装效果图</div>
<div class="t" id="t_vt" style="left:90px;top:259px;font-size:16px;color:#333;transform-origin:0 0;transform:rotate(-90deg) scaleX(0.97);">RS485 / RJ45</div>
</body></html>
